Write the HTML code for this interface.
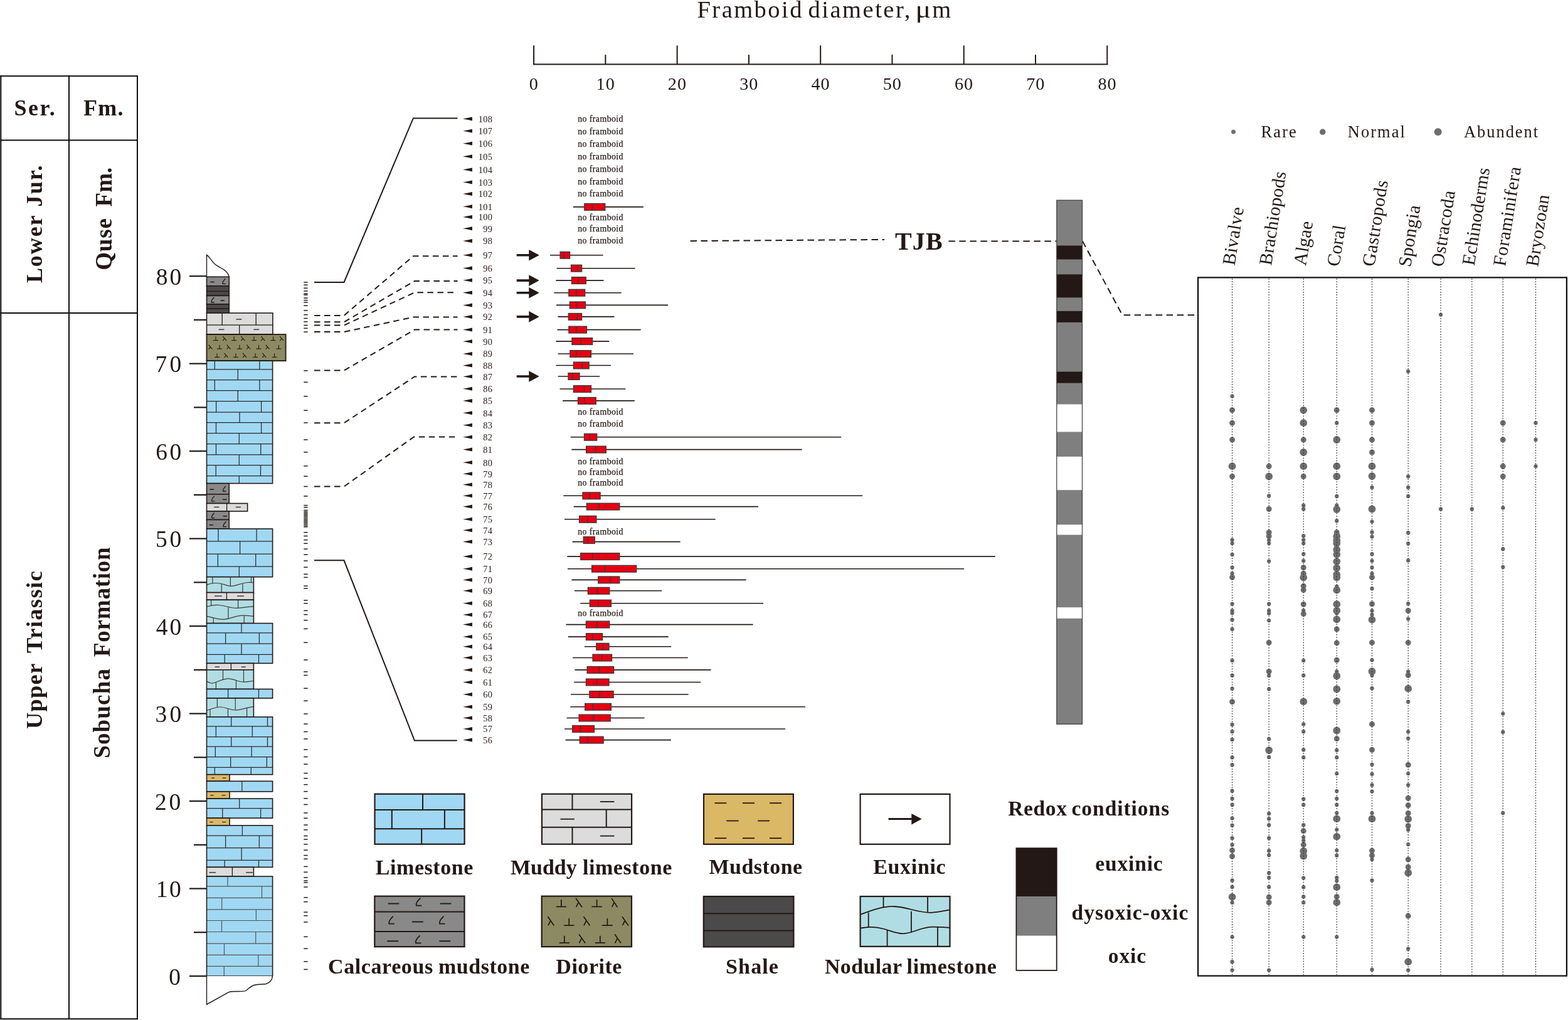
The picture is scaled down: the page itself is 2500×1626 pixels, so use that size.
<!DOCTYPE html>
<html><head><meta charset="utf-8"><title>Framboid diameter figure</title>
<style>html,body{margin:0;padding:0;background:#fff;}svg{display:block;}</style></head>
<body><svg width="2500" height="1626" viewBox="0 0 2500 1626">
<rect width="2500" height="1626" fill="#fff"/>
<line x1="1.3" y1="120.3" x2="1.3" y2="1625" stroke="#0d0d0d" stroke-width="2"/>
<line x1="110" y1="120.3" x2="110" y2="1625" stroke="#0d0d0d" stroke-width="2"/>
<line x1="219" y1="120.3" x2="219" y2="1625" stroke="#0d0d0d" stroke-width="2"/>
<line x1="0.3" y1="121.2" x2="220" y2="121.2" stroke="#0d0d0d" stroke-width="2"/>
<line x1="0.3" y1="223.6" x2="220" y2="223.6" stroke="#0d0d0d" stroke-width="2"/>
<line x1="0.3" y1="498.9" x2="220" y2="498.9" stroke="#0d0d0d" stroke-width="2"/>
<line x1="0.3" y1="1624.3" x2="220" y2="1624.3" stroke="#0d0d0d" stroke-width="2"/>
<text x="22.6" y="184" font-family="Liberation Serif, serif" font-size="36" font-weight="bold" font-style="normal" fill="#231815" letter-spacing="2.5">Ser.</text>
<text x="132.95" y="184" font-family="Liberation Serif, serif" font-size="36" font-weight="bold" font-style="normal" fill="#231815" letter-spacing="1.23">Fm.</text>
<text transform="translate(66.9 451.05) rotate(-90)" font-family="Liberation Serif, serif" font-size="36" font-weight="bold" font-style="normal" fill="#231815" letter-spacing="1.9">Lower</text>
<text transform="translate(66.9 329.4) rotate(-90)" font-family="Liberation Serif, serif" font-size="36" font-weight="bold" font-style="normal" fill="#231815" letter-spacing="2.05">Jur.</text>
<text transform="translate(177.7 430.85) rotate(-90)" font-family="Liberation Serif, serif" font-size="37" font-weight="bold" font-style="normal" fill="#231815" letter-spacing="0.85">Quse</text>
<text transform="translate(177.7 329.5) rotate(-90)" font-family="Liberation Serif, serif" font-size="37" font-weight="bold" font-style="normal" fill="#231815" letter-spacing="0.1">Fm.</text>
<text transform="translate(66.5 1162) rotate(-90)" font-family="Liberation Serif, serif" font-size="36.5" font-weight="bold" font-style="normal" fill="#231815" letter-spacing="1.18">Upper</text>
<text transform="translate(66.5 1041) rotate(-90)" font-family="Liberation Serif, serif" font-size="36.5" font-weight="bold" font-style="normal" fill="#231815" letter-spacing="1.4">Triassic</text>
<text transform="translate(174.7 1208.85) rotate(-90)" font-family="Liberation Serif, serif" font-size="37" font-weight="bold" font-style="normal" fill="#231815" letter-spacing="1.18">Sobucha</text>
<text transform="translate(174.7 1047) rotate(-90)" font-family="Liberation Serif, serif" font-size="37" font-weight="bold" font-style="normal" fill="#231815" letter-spacing="0.76">Formation</text>
<line x1="302" y1="1556" x2="330" y2="1556" stroke="#231815" stroke-width="2.2"/>
<text x="269.15" y="1569.6" font-family="Liberation Serif, serif" font-size="37.5" font-weight="normal" font-style="normal" fill="#231815" letter-spacing="9.25">0</text>
<line x1="309" y1="1486.26" x2="330" y2="1486.26" stroke="#231815" stroke-width="2.2"/>
<line x1="302" y1="1416.53" x2="330" y2="1416.53" stroke="#231815" stroke-width="2.2"/>
<text x="248.8" y="1430.12" font-family="Liberation Serif, serif" font-size="37.5" font-weight="normal" font-style="normal" fill="#231815" letter-spacing="2.5">10</text>
<line x1="309" y1="1346.79" x2="330" y2="1346.79" stroke="#231815" stroke-width="2.2"/>
<line x1="302" y1="1277.05" x2="330" y2="1277.05" stroke="#231815" stroke-width="2.2"/>
<text x="247" y="1290.65" font-family="Liberation Serif, serif" font-size="37.5" font-weight="normal" font-style="normal" fill="#231815" letter-spacing="3.85">20</text>
<line x1="309" y1="1207.31" x2="330" y2="1207.31" stroke="#231815" stroke-width="2.2"/>
<line x1="302" y1="1137.58" x2="330" y2="1137.58" stroke="#231815" stroke-width="2.2"/>
<text x="247.45" y="1151.17" font-family="Liberation Serif, serif" font-size="37.5" font-weight="normal" font-style="normal" fill="#231815" letter-spacing="4.3">30</text>
<line x1="309" y1="1067.84" x2="330" y2="1067.84" stroke="#231815" stroke-width="2.2"/>
<line x1="302" y1="998.1" x2="330" y2="998.1" stroke="#231815" stroke-width="2.2"/>
<text x="248.8" y="1011.7" font-family="Liberation Serif, serif" font-size="37.5" font-weight="normal" font-style="normal" fill="#231815" letter-spacing="2.95">40</text>
<line x1="309" y1="928.36" x2="330" y2="928.36" stroke="#231815" stroke-width="2.2"/>
<line x1="302" y1="858.62" x2="330" y2="858.62" stroke="#231815" stroke-width="2.2"/>
<text x="247.9" y="872.23" font-family="Liberation Serif, serif" font-size="37.5" font-weight="normal" font-style="normal" fill="#231815" letter-spacing="3.85">50</text>
<line x1="309" y1="788.89" x2="330" y2="788.89" stroke="#231815" stroke-width="2.2"/>
<line x1="302" y1="719.15" x2="330" y2="719.15" stroke="#231815" stroke-width="2.2"/>
<text x="248.35" y="732.75" font-family="Liberation Serif, serif" font-size="37.5" font-weight="normal" font-style="normal" fill="#231815" letter-spacing="3.4">60</text>
<line x1="309" y1="649.41" x2="330" y2="649.41" stroke="#231815" stroke-width="2.2"/>
<line x1="302" y1="579.68" x2="330" y2="579.68" stroke="#231815" stroke-width="2.2"/>
<text x="247.45" y="593.28" font-family="Liberation Serif, serif" font-size="37.5" font-weight="normal" font-style="normal" fill="#231815" letter-spacing="4.3">70</text>
<line x1="309" y1="509.94" x2="330" y2="509.94" stroke="#231815" stroke-width="2.2"/>
<line x1="302" y1="440.2" x2="330" y2="440.2" stroke="#231815" stroke-width="2.2"/>
<text x="248.8" y="453.8" font-family="Liberation Serif, serif" font-size="37.5" font-weight="normal" font-style="normal" fill="#231815" letter-spacing="2.95">80</text>
<path d="M329.5 441.3 L329.5 406.3 C334 409 337 416 343 421.5 C350 427 362 429 365.3 441.3" fill="#fff" stroke="#231815" stroke-width="1.4"/>
<rect x="329.5" y="441.3" width="35.8" height="14.5" fill="#898989" stroke="none" stroke-width="0"/>
<line x1="335.2" y1="449.55" x2="341.7" y2="449.55" stroke="#231815" stroke-width="1.5"/>
<path d="M359.38 444.28 Q354.15 449.5 355.1 452.35 L359.85 452.35" fill="none" stroke="#231815" stroke-width="1.3"/>
<rect x="329.5" y="441.3" width="35.8" height="14.5" fill="none" stroke="#231815" stroke-width="1.6"/>
<rect x="329.5" y="455.8" width="35.8" height="15.6" fill="#4b4949" stroke="none" stroke-width="0"/>
<line x1="329.5" y1="464.4" x2="365.3" y2="464.4" stroke="#231815" stroke-width="1.3"/>
<rect x="329.5" y="455.8" width="35.8" height="15.6" fill="none" stroke="#231815" stroke-width="1.6"/>
<rect x="329.5" y="471.4" width="35.8" height="13.6" fill="#898989" stroke="none" stroke-width="0"/>
<path d="M341.38 473.93 Q336.15 479.15 337.1 482 L341.85 482" fill="none" stroke="#231815" stroke-width="1.3"/>
<line x1="351.5" y1="479.2" x2="358" y2="479.2" stroke="#231815" stroke-width="1.5"/>
<rect x="329.5" y="471.4" width="35.8" height="13.6" fill="none" stroke="#231815" stroke-width="1.6"/>
<rect x="329.5" y="485" width="35.8" height="14" fill="#4b4949" stroke="none" stroke-width="0"/>
<line x1="329.5" y1="492" x2="365.3" y2="492" stroke="#231815" stroke-width="1.3"/>
<rect x="329.5" y="485" width="35.8" height="14" fill="none" stroke="#231815" stroke-width="1.6"/>
<rect x="329.5" y="499" width="105.4" height="33.9" fill="#dcdcdc" stroke="none" stroke-width="0"/>
<line x1="329.5" y1="518.2" x2="434.9" y2="518.2" stroke="#231815" stroke-width="1.3"/>
<line x1="354.2" y1="499" x2="354.2" y2="518.2" stroke="#231815" stroke-width="1.3"/>
<line x1="408.2" y1="499" x2="408.2" y2="518.2" stroke="#231815" stroke-width="1.3"/>
<line x1="381.7" y1="518.2" x2="381.7" y2="532.9" stroke="#231815" stroke-width="1.3"/>
<line x1="376.5" y1="509" x2="385.4" y2="509" stroke="#3e3a39" stroke-width="1.5"/>
<line x1="348.7" y1="525.3" x2="357.5" y2="525.3" stroke="#3e3a39" stroke-width="1.5"/>
<line x1="404.4" y1="525.3" x2="413.2" y2="525.3" stroke="#3e3a39" stroke-width="1.5"/>
<rect x="329.5" y="499" width="105.4" height="33.9" fill="none" stroke="#231815" stroke-width="1.6"/>
<rect x="329.5" y="533.1" width="126.1" height="42.1" fill="#8c8a62" stroke="none" stroke-width="0"/>
<line x1="340" y1="542.6" x2="348" y2="542.6" stroke="#231815" stroke-width="1.1"/>
<line x1="344" y1="536.6" x2="344" y2="542.6" stroke="#231815" stroke-width="1.1"/>
<path d="M355.2 536.1 L361.2 543.1 M358.4 539.3 L355.2 543.1" stroke="#231815" stroke-width="1.1" fill="none"/>
<line x1="369.1" y1="542.6" x2="377.1" y2="542.6" stroke="#231815" stroke-width="1.1"/>
<line x1="373.1" y1="536.6" x2="373.1" y2="542.6" stroke="#231815" stroke-width="1.1"/>
<path d="M384.4 536.1 L390.4 543.1 M387.6 539.3 L384.4 543.1" stroke="#231815" stroke-width="1.1" fill="none"/>
<line x1="401" y1="542.6" x2="409" y2="542.6" stroke="#231815" stroke-width="1.1"/>
<line x1="405" y1="536.6" x2="405" y2="542.6" stroke="#231815" stroke-width="1.1"/>
<path d="M416.3 536.1 L422.3 543.1 M419.5 539.3 L416.3 543.1" stroke="#231815" stroke-width="1.1" fill="none"/>
<line x1="431.6" y1="542.6" x2="439.6" y2="542.6" stroke="#231815" stroke-width="1.1"/>
<line x1="435.6" y1="536.6" x2="435.6" y2="542.6" stroke="#231815" stroke-width="1.1"/>
<path d="M446.1 536.1 L452.1 543.1 M449.3 539.3 L446.1 543.1" stroke="#231815" stroke-width="1.1" fill="none"/>
<path d="M332.6 549.6 L338.6 556.6 M335.8 552.8 L332.6 556.6" stroke="#231815" stroke-width="1.1" fill="none"/>
<line x1="346.1" y1="556.1" x2="354.1" y2="556.1" stroke="#231815" stroke-width="1.1"/>
<line x1="350.1" y1="550.1" x2="350.1" y2="556.1" stroke="#231815" stroke-width="1.1"/>
<path d="M361.6 549.6 L367.6 556.6 M364.8 552.8 L361.6 556.6" stroke="#231815" stroke-width="1.1" fill="none"/>
<line x1="378" y1="556.1" x2="386" y2="556.1" stroke="#231815" stroke-width="1.1"/>
<line x1="382" y1="550.1" x2="382" y2="556.1" stroke="#231815" stroke-width="1.1"/>
<path d="M393.2 549.6 L399.2 556.6 M396.4 552.8 L393.2 556.6" stroke="#231815" stroke-width="1.1" fill="none"/>
<line x1="408.5" y1="556.1" x2="416.5" y2="556.1" stroke="#231815" stroke-width="1.1"/>
<line x1="412.5" y1="550.1" x2="412.5" y2="556.1" stroke="#231815" stroke-width="1.1"/>
<path d="M423.7 549.6 L429.7 556.6 M426.9 552.8 L423.7 556.6" stroke="#231815" stroke-width="1.1" fill="none"/>
<line x1="440.4" y1="556.1" x2="448.4" y2="556.1" stroke="#231815" stroke-width="1.1"/>
<line x1="444.4" y1="550.1" x2="444.4" y2="556.1" stroke="#231815" stroke-width="1.1"/>
<line x1="342" y1="569.4" x2="350" y2="569.4" stroke="#231815" stroke-width="1.1"/>
<line x1="346" y1="563.4" x2="346" y2="569.4" stroke="#231815" stroke-width="1.1"/>
<path d="M357.5 562.9 L363.5 569.9 M360.7 566.1 L357.5 569.9" stroke="#231815" stroke-width="1.1" fill="none"/>
<line x1="371.9" y1="569.4" x2="379.9" y2="569.4" stroke="#231815" stroke-width="1.1"/>
<line x1="375.9" y1="563.4" x2="375.9" y2="569.4" stroke="#231815" stroke-width="1.1"/>
<path d="M387.1 562.9 L393.1 569.9 M390.3 566.1 L387.1 569.9" stroke="#231815" stroke-width="1.1" fill="none"/>
<line x1="403.1" y1="569.4" x2="411.1" y2="569.4" stroke="#231815" stroke-width="1.1"/>
<line x1="407.1" y1="563.4" x2="407.1" y2="569.4" stroke="#231815" stroke-width="1.1"/>
<path d="M418.3 562.9 L424.3 569.9 M421.5 566.1 L418.3 569.9" stroke="#231815" stroke-width="1.1" fill="none"/>
<line x1="433.6" y1="569.4" x2="441.6" y2="569.4" stroke="#231815" stroke-width="1.1"/>
<line x1="437.6" y1="563.4" x2="437.6" y2="569.4" stroke="#231815" stroke-width="1.1"/>
<rect x="329.5" y="533.1" width="126.1" height="42.1" fill="none" stroke="#231815" stroke-width="1.8"/>
<rect x="329.5" y="575.2" width="105.1" height="195.4" fill="#a0d8f4" stroke="none" stroke-width="0"/>
<line x1="329.5" y1="588.8" x2="434.6" y2="588.8" stroke="#2e2a29" stroke-width="1.25"/>
<line x1="329.5" y1="605.5" x2="434.6" y2="605.5" stroke="#2e2a29" stroke-width="1.25"/>
<line x1="329.5" y1="622.5" x2="434.6" y2="622.5" stroke="#2e2a29" stroke-width="1.25"/>
<line x1="329.5" y1="639.7" x2="434.6" y2="639.7" stroke="#2e2a29" stroke-width="1.25"/>
<line x1="329.5" y1="657.1" x2="434.6" y2="657.1" stroke="#2e2a29" stroke-width="1.25"/>
<line x1="329.5" y1="673.6" x2="434.6" y2="673.6" stroke="#2e2a29" stroke-width="1.25"/>
<line x1="329.5" y1="690.6" x2="434.6" y2="690.6" stroke="#2e2a29" stroke-width="1.25"/>
<line x1="329.5" y1="707.5" x2="434.6" y2="707.5" stroke="#2e2a29" stroke-width="1.25"/>
<line x1="329.5" y1="724.9" x2="434.6" y2="724.9" stroke="#2e2a29" stroke-width="1.25"/>
<line x1="329.5" y1="741.7" x2="434.6" y2="741.7" stroke="#2e2a29" stroke-width="1.25"/>
<line x1="329.5" y1="758.6" x2="434.6" y2="758.6" stroke="#2e2a29" stroke-width="1.25"/>
<line x1="342.3" y1="575.2" x2="342.3" y2="588.8" stroke="#2e2a29" stroke-width="1.25"/>
<line x1="413.9" y1="575.2" x2="413.9" y2="588.8" stroke="#2e2a29" stroke-width="1.25"/>
<line x1="379.3" y1="588.8" x2="379.3" y2="605.5" stroke="#2e2a29" stroke-width="1.25"/>
<line x1="342.3" y1="605.5" x2="342.3" y2="622.5" stroke="#2e2a29" stroke-width="1.25"/>
<line x1="413.9" y1="605.5" x2="413.9" y2="622.5" stroke="#2e2a29" stroke-width="1.25"/>
<line x1="379.3" y1="622.5" x2="379.3" y2="639.7" stroke="#2e2a29" stroke-width="1.25"/>
<line x1="344.7" y1="639.7" x2="344.7" y2="657.1" stroke="#2e2a29" stroke-width="1.25"/>
<line x1="416.6" y1="639.7" x2="416.6" y2="657.1" stroke="#2e2a29" stroke-width="1.25"/>
<line x1="382" y1="657.1" x2="382" y2="673.6" stroke="#2e2a29" stroke-width="1.25"/>
<line x1="344.5" y1="673.6" x2="344.5" y2="690.6" stroke="#2e2a29" stroke-width="1.25"/>
<line x1="416.6" y1="673.6" x2="416.6" y2="690.6" stroke="#2e2a29" stroke-width="1.25"/>
<line x1="381.3" y1="690.6" x2="381.3" y2="707.5" stroke="#2e2a29" stroke-width="1.25"/>
<line x1="344.5" y1="707.5" x2="344.5" y2="724.9" stroke="#2e2a29" stroke-width="1.25"/>
<line x1="415.8" y1="707.5" x2="415.8" y2="724.9" stroke="#2e2a29" stroke-width="1.25"/>
<line x1="381.3" y1="724.9" x2="381.3" y2="741.7" stroke="#2e2a29" stroke-width="1.25"/>
<line x1="344.2" y1="741.7" x2="344.2" y2="758.6" stroke="#2e2a29" stroke-width="1.25"/>
<line x1="415.5" y1="741.7" x2="415.5" y2="758.6" stroke="#2e2a29" stroke-width="1.25"/>
<line x1="381.3" y1="758.6" x2="381.3" y2="770.6" stroke="#2e2a29" stroke-width="1.25"/>
<rect x="329.5" y="575.2" width="105.1" height="195.4" fill="none" stroke="#231815" stroke-width="1.6"/>
<rect x="329.5" y="770.6" width="35.8" height="17.2" fill="#898989" stroke="none" stroke-width="0"/>
<line x1="334.5" y1="780.2" x2="341" y2="780.2" stroke="#231815" stroke-width="1.5"/>
<path d="M359.88 774.93 Q354.65 780.15 355.6 783 L360.35 783" fill="none" stroke="#231815" stroke-width="1.3"/>
<rect x="329.5" y="770.6" width="35.8" height="17.2" fill="none" stroke="#231815" stroke-width="1.6"/>
<rect x="329.5" y="787.8" width="35.8" height="14.7" fill="#898989" stroke="none" stroke-width="0"/>
<path d="M341.88 790.88 Q336.65 796.1 337.6 798.95 L342.35 798.95" fill="none" stroke="#231815" stroke-width="1.3"/>
<line x1="355" y1="796.15" x2="361.5" y2="796.15" stroke="#231815" stroke-width="1.5"/>
<rect x="329.5" y="787.8" width="35.8" height="14.7" fill="none" stroke="#231815" stroke-width="1.6"/>
<rect x="329.5" y="802.5" width="65.1" height="12.5" fill="#dcdcdc" stroke="none" stroke-width="0"/>
<line x1="361.6" y1="802.5" x2="361.6" y2="815" stroke="#231815" stroke-width="1.3"/>
<line x1="341.3" y1="808.4" x2="349.4" y2="808.4" stroke="#3e3a39" stroke-width="1.5"/>
<line x1="375.9" y1="808.4" x2="384" y2="808.4" stroke="#3e3a39" stroke-width="1.5"/>
<rect x="329.5" y="802.5" width="65.1" height="12.5" fill="none" stroke="#231815" stroke-width="1.6"/>
<rect x="329.5" y="815" width="35.8" height="13.5" fill="#898989" stroke="none" stroke-width="0"/>
<path d="M341.88 817.48 Q336.65 822.7 337.6 825.55 L342.35 825.55" fill="none" stroke="#231815" stroke-width="1.3"/>
<line x1="355.5" y1="822.75" x2="362" y2="822.75" stroke="#231815" stroke-width="1.5"/>
<rect x="329.5" y="815" width="35.8" height="13.5" fill="none" stroke="#231815" stroke-width="1.6"/>
<rect x="329.5" y="828.5" width="35.8" height="14.5" fill="#898989" stroke="none" stroke-width="0"/>
<line x1="333.5" y1="836.75" x2="340" y2="836.75" stroke="#231815" stroke-width="1.5"/>
<path d="M360.38 831.48 Q355.15 836.7 356.1 839.55 L360.85 839.55" fill="none" stroke="#231815" stroke-width="1.3"/>
<rect x="329.5" y="828.5" width="35.8" height="14.5" fill="none" stroke="#231815" stroke-width="1.6"/>
<rect x="329.5" y="843" width="105.1" height="76.7" fill="#a0d8f4" stroke="none" stroke-width="0"/>
<line x1="329.5" y1="862.9" x2="434.6" y2="862.9" stroke="#2e2a29" stroke-width="1.25"/>
<line x1="329.5" y1="883" x2="434.6" y2="883" stroke="#2e2a29" stroke-width="1.25"/>
<line x1="329.5" y1="903.1" x2="434.6" y2="903.1" stroke="#2e2a29" stroke-width="1.25"/>
<line x1="348" y1="843" x2="348" y2="862.9" stroke="#2e2a29" stroke-width="1.25"/>
<line x1="409.1" y1="843" x2="409.1" y2="862.9" stroke="#2e2a29" stroke-width="1.25"/>
<line x1="382.6" y1="862.9" x2="382.6" y2="883" stroke="#2e2a29" stroke-width="1.25"/>
<line x1="347.4" y1="883" x2="347.4" y2="903.1" stroke="#2e2a29" stroke-width="1.25"/>
<line x1="407.7" y1="883" x2="407.7" y2="903.1" stroke="#2e2a29" stroke-width="1.25"/>
<line x1="381.3" y1="903.1" x2="381.3" y2="919.7" stroke="#2e2a29" stroke-width="1.25"/>
<rect x="329.5" y="843" width="105.1" height="76.7" fill="none" stroke="#231815" stroke-width="1.6"/>
<rect x="329.5" y="919.7" width="74.9" height="24.9" fill="#b0dde3" stroke="none" stroke-width="0"/>
<path d="M329.5 932.4 C337 929 343 929 350 930 C358 931 363 935 369.4 934.4 C377 934 385 929 395.6 928.5 C400 928.3 402 928.7 404.4 928.9" fill="none" stroke="#3e3a39" stroke-width="1.2"/>
<line x1="338.9" y1="919.7" x2="338.9" y2="930.2" stroke="#3e3a39" stroke-width="1.2"/>
<line x1="367.4" y1="919.7" x2="367.4" y2="934.2" stroke="#3e3a39" stroke-width="1.2"/>
<line x1="400.5" y1="919.7" x2="400.5" y2="928.6" stroke="#3e3a39" stroke-width="1.2"/>
<line x1="353.3" y1="930.8" x2="353.3" y2="944.6" stroke="#3e3a39" stroke-width="1.2"/>
<line x1="386.9" y1="930.6" x2="386.9" y2="944.6" stroke="#3e3a39" stroke-width="1.2"/>
<rect x="329.5" y="919.7" width="74.9" height="24.9" fill="none" stroke="#231815" stroke-width="1.6"/>
<rect x="329.5" y="944.6" width="74.9" height="11.7" fill="#dcdcdc" stroke="none" stroke-width="0"/>
<line x1="361.4" y1="944.6" x2="361.4" y2="956.3" stroke="#231815" stroke-width="1.3"/>
<line x1="342" y1="950.2" x2="353.7" y2="950.2" stroke="#3e3a39" stroke-width="1.5"/>
<line x1="378.1" y1="950.2" x2="388.9" y2="950.2" stroke="#3e3a39" stroke-width="1.5"/>
<rect x="329.5" y="944.6" width="74.9" height="11.7" fill="none" stroke="#231815" stroke-width="1.6"/>
<rect x="329.5" y="956.3" width="74.9" height="37.3" fill="#b0dde3" stroke="none" stroke-width="0"/>
<path d="M329.5 967.3 C336 965 342 964.2 348 964.5 C358 965 366 969.5 378.1 969.3 C388 969 396 967 404.4 966.7" fill="none" stroke="#3e3a39" stroke-width="1.2"/>
<path d="M329.5 982.4 C338 984 347 987.5 356 987.3 C366 987 376 981.3 386.9 981.2 C394 981.2 400 982 404.4 982.4" fill="none" stroke="#3e3a39" stroke-width="1.2"/>
<line x1="336.6" y1="956.3" x2="336.6" y2="965.6" stroke="#3e3a39" stroke-width="1.2"/>
<line x1="379.6" y1="956.3" x2="379.6" y2="969.3" stroke="#3e3a39" stroke-width="1.2"/>
<line x1="363.9" y1="968.6" x2="363.9" y2="985.6" stroke="#3e3a39" stroke-width="1.2"/>
<line x1="340.3" y1="984.6" x2="340.3" y2="993.6" stroke="#3e3a39" stroke-width="1.2"/>
<line x1="389.2" y1="981.3" x2="389.2" y2="993.6" stroke="#3e3a39" stroke-width="1.2"/>
<rect x="329.5" y="956.3" width="74.9" height="37.3" fill="none" stroke="#231815" stroke-width="1.6"/>
<rect x="329.5" y="993.6" width="105.1" height="63.8" fill="#a0d8f4" stroke="none" stroke-width="0"/>
<line x1="329.5" y1="1008.8" x2="434.6" y2="1008.8" stroke="#2e2a29" stroke-width="1.25"/>
<line x1="329.5" y1="1026.2" x2="434.6" y2="1026.2" stroke="#2e2a29" stroke-width="1.25"/>
<line x1="329.5" y1="1043.4" x2="434.6" y2="1043.4" stroke="#2e2a29" stroke-width="1.25"/>
<line x1="385" y1="993.6" x2="385" y2="1008.8" stroke="#2e2a29" stroke-width="1.25"/>
<line x1="359.6" y1="1008.8" x2="359.6" y2="1026.2" stroke="#2e2a29" stroke-width="1.25"/>
<line x1="413.4" y1="1008.8" x2="413.4" y2="1026.2" stroke="#2e2a29" stroke-width="1.25"/>
<line x1="385" y1="1026.2" x2="385" y2="1043.4" stroke="#2e2a29" stroke-width="1.25"/>
<line x1="358.2" y1="1043.4" x2="358.2" y2="1057.4" stroke="#2e2a29" stroke-width="1.25"/>
<line x1="412.5" y1="1043.4" x2="412.5" y2="1057.4" stroke="#2e2a29" stroke-width="1.25"/>
<rect x="329.5" y="993.6" width="105.1" height="63.8" fill="none" stroke="#231815" stroke-width="1.6"/>
<rect x="329.5" y="1057.4" width="74.9" height="10.4" fill="#dcdcdc" stroke="none" stroke-width="0"/>
<line x1="368.4" y1="1057.4" x2="368.4" y2="1067.8" stroke="#231815" stroke-width="1.3"/>
<line x1="342.6" y1="1063.2" x2="350.1" y2="1063.2" stroke="#3e3a39" stroke-width="1.5"/>
<line x1="384.7" y1="1063.2" x2="391.7" y2="1063.2" stroke="#3e3a39" stroke-width="1.5"/>
<rect x="329.5" y="1057.4" width="74.9" height="10.4" fill="none" stroke="#231815" stroke-width="1.6"/>
<rect x="329.5" y="1067.8" width="74.9" height="30.7" fill="#b0dde3" stroke="none" stroke-width="0"/>
<path d="M329.5 1085.9 C333 1088 336 1089.5 339.5 1089 C348 1087 355 1081.5 364.3 1081.8 C373 1082 380 1087.2 388.7 1087.2 C395 1087.2 400 1085.8 404.4 1085.5" fill="none" stroke="#3e3a39" stroke-width="1.2"/>
<line x1="355.5" y1="1067.8" x2="355.5" y2="1083.3" stroke="#3e3a39" stroke-width="1.2"/>
<line x1="388.5" y1="1067.8" x2="388.5" y2="1087.2" stroke="#3e3a39" stroke-width="1.2"/>
<line x1="344.4" y1="1087.6" x2="344.4" y2="1098.5" stroke="#3e3a39" stroke-width="1.2"/>
<line x1="376.5" y1="1084.5" x2="376.5" y2="1098.5" stroke="#3e3a39" stroke-width="1.2"/>
<rect x="329.5" y="1067.8" width="74.9" height="30.7" fill="none" stroke="#231815" stroke-width="1.6"/>
<rect x="329.5" y="1098.5" width="105.1" height="14.5" fill="#a0d8f4" stroke="none" stroke-width="0"/>
<line x1="363.6" y1="1098.5" x2="363.6" y2="1113" stroke="#2e2a29" stroke-width="1.25"/>
<line x1="412.5" y1="1098.5" x2="412.5" y2="1113" stroke="#2e2a29" stroke-width="1.25"/>
<rect x="329.5" y="1098.5" width="105.1" height="14.5" fill="none" stroke="#231815" stroke-width="1.6"/>
<rect x="329.5" y="1113" width="74.9" height="29.9" fill="#b0dde3" stroke="none" stroke-width="0"/>
<path d="M329.5 1132.7 C338 1130 344 1127 350.8 1127 C360 1127 366 1132 375 1132 C386 1132 395 1126.8 404.4 1126.6" fill="none" stroke="#3e3a39" stroke-width="1.2"/>
<line x1="346.4" y1="1113" x2="346.4" y2="1127.3" stroke="#3e3a39" stroke-width="1.2"/>
<line x1="375.2" y1="1113" x2="375.2" y2="1132" stroke="#3e3a39" stroke-width="1.2"/>
<line x1="335" y1="1130.8" x2="335" y2="1142.9" stroke="#3e3a39" stroke-width="1.2"/>
<line x1="363.5" y1="1129.8" x2="363.5" y2="1142.9" stroke="#3e3a39" stroke-width="1.2"/>
<line x1="393.6" y1="1128.3" x2="393.6" y2="1142.9" stroke="#3e3a39" stroke-width="1.2"/>
<rect x="329.5" y="1113" width="74.9" height="29.9" fill="none" stroke="#231815" stroke-width="1.6"/>
<rect x="329.5" y="1142.9" width="105.1" height="91.8" fill="#a0d8f4" stroke="none" stroke-width="0"/>
<line x1="329.5" y1="1157.8" x2="434.6" y2="1157.8" stroke="#2e2a29" stroke-width="1.25"/>
<line x1="329.5" y1="1174.5" x2="434.6" y2="1174.5" stroke="#2e2a29" stroke-width="1.25"/>
<line x1="329.5" y1="1190.1" x2="434.6" y2="1190.1" stroke="#2e2a29" stroke-width="1.25"/>
<line x1="329.5" y1="1206.7" x2="434.6" y2="1206.7" stroke="#2e2a29" stroke-width="1.25"/>
<line x1="329.5" y1="1223.4" x2="434.6" y2="1223.4" stroke="#2e2a29" stroke-width="1.25"/>
<line x1="368.7" y1="1142.9" x2="368.7" y2="1157.8" stroke="#2e2a29" stroke-width="1.25"/>
<line x1="426.5" y1="1142.9" x2="426.5" y2="1157.8" stroke="#2e2a29" stroke-width="1.25"/>
<line x1="344.4" y1="1157.8" x2="344.4" y2="1174.5" stroke="#2e2a29" stroke-width="1.25"/>
<line x1="402.3" y1="1157.8" x2="402.3" y2="1174.5" stroke="#2e2a29" stroke-width="1.25"/>
<line x1="368.7" y1="1174.5" x2="368.7" y2="1190.1" stroke="#2e2a29" stroke-width="1.25"/>
<line x1="426.5" y1="1174.5" x2="426.5" y2="1190.1" stroke="#2e2a29" stroke-width="1.25"/>
<line x1="343.3" y1="1190.1" x2="343.3" y2="1206.7" stroke="#2e2a29" stroke-width="1.25"/>
<line x1="401.2" y1="1190.1" x2="401.2" y2="1206.7" stroke="#2e2a29" stroke-width="1.25"/>
<line x1="367.7" y1="1206.7" x2="367.7" y2="1223.4" stroke="#2e2a29" stroke-width="1.25"/>
<line x1="425.4" y1="1206.7" x2="425.4" y2="1223.4" stroke="#2e2a29" stroke-width="1.25"/>
<line x1="342.3" y1="1223.4" x2="342.3" y2="1234.7" stroke="#2e2a29" stroke-width="1.25"/>
<line x1="400.3" y1="1223.4" x2="400.3" y2="1234.7" stroke="#2e2a29" stroke-width="1.25"/>
<rect x="329.5" y="1142.9" width="105.1" height="91.8" fill="none" stroke="#231815" stroke-width="1.6"/>
<rect x="329.5" y="1234.7" width="36.6" height="10.6" fill="#dbb866" stroke="none" stroke-width="0"/>
<line x1="337.2" y1="1240.2" x2="342" y2="1240.2" stroke="#3e3a39" stroke-width="1.4"/>
<line x1="354.8" y1="1240.2" x2="360.3" y2="1240.2" stroke="#3e3a39" stroke-width="1.4"/>
<rect x="329.5" y="1234.7" width="36.6" height="10.6" fill="none" stroke="#231815" stroke-width="1.6"/>
<rect x="329.5" y="1245.3" width="105.1" height="16.6" fill="#a0d8f4" stroke="none" stroke-width="0"/>
<line x1="385.8" y1="1245.3" x2="385.8" y2="1261.9" stroke="#2e2a29" stroke-width="1.25"/>
<rect x="329.5" y="1245.3" width="105.1" height="16.6" fill="none" stroke="#231815" stroke-width="1.6"/>
<rect x="329.5" y="1261.9" width="36.6" height="11.2" fill="#dbb866" stroke="none" stroke-width="0"/>
<line x1="335.2" y1="1267.7" x2="340.6" y2="1267.7" stroke="#3e3a39" stroke-width="1.4"/>
<line x1="353.5" y1="1267.7" x2="359.6" y2="1267.7" stroke="#3e3a39" stroke-width="1.4"/>
<rect x="329.5" y="1261.9" width="36.6" height="11.2" fill="none" stroke="#231815" stroke-width="1.6"/>
<rect x="329.5" y="1273.1" width="105.1" height="31" fill="#a0d8f4" stroke="none" stroke-width="0"/>
<line x1="329.5" y1="1288.5" x2="434.6" y2="1288.5" stroke="#2e2a29" stroke-width="1.25"/>
<line x1="381.7" y1="1273.1" x2="381.7" y2="1288.5" stroke="#2e2a29" stroke-width="1.25"/>
<line x1="354.8" y1="1288.5" x2="354.8" y2="1304.1" stroke="#2e2a29" stroke-width="1.25"/>
<line x1="415.6" y1="1288.5" x2="415.6" y2="1304.1" stroke="#2e2a29" stroke-width="1.25"/>
<rect x="329.5" y="1273.1" width="105.1" height="31" fill="none" stroke="#231815" stroke-width="1.6"/>
<rect x="329.5" y="1304.1" width="36.6" height="11.8" fill="#dbb866" stroke="none" stroke-width="0"/>
<line x1="334.5" y1="1310.5" x2="339.9" y2="1310.5" stroke="#3e3a39" stroke-width="1.4"/>
<line x1="354.2" y1="1310.5" x2="360.3" y2="1310.5" stroke="#3e3a39" stroke-width="1.4"/>
<rect x="329.5" y="1304.1" width="36.6" height="11.8" fill="none" stroke="#231815" stroke-width="1.6"/>
<rect x="329.5" y="1315.9" width="105.1" height="66.5" fill="#a0d8f4" stroke="none" stroke-width="0"/>
<line x1="329.5" y1="1332.2" x2="434.6" y2="1332.2" stroke="#2e2a29" stroke-width="1.25"/>
<line x1="329.5" y1="1351.6" x2="434.6" y2="1351.6" stroke="#2e2a29" stroke-width="1.25"/>
<line x1="329.5" y1="1371.3" x2="434.6" y2="1371.3" stroke="#2e2a29" stroke-width="1.25"/>
<line x1="386.4" y1="1315.9" x2="386.4" y2="1332.2" stroke="#2e2a29" stroke-width="1.25"/>
<line x1="359.6" y1="1332.2" x2="359.6" y2="1351.6" stroke="#2e2a29" stroke-width="1.25"/>
<line x1="413.4" y1="1332.2" x2="413.4" y2="1351.6" stroke="#2e2a29" stroke-width="1.25"/>
<line x1="385.1" y1="1351.6" x2="385.1" y2="1371.3" stroke="#2e2a29" stroke-width="1.25"/>
<line x1="358.2" y1="1371.3" x2="358.2" y2="1382.4" stroke="#2e2a29" stroke-width="1.25"/>
<line x1="412.5" y1="1371.3" x2="412.5" y2="1382.4" stroke="#2e2a29" stroke-width="1.25"/>
<rect x="329.5" y="1315.9" width="105.1" height="66.5" fill="none" stroke="#231815" stroke-width="1.6"/>
<rect x="329.5" y="1382.4" width="74.9" height="14.7" fill="#dcdcdc" stroke="none" stroke-width="0"/>
<line x1="370.4" y1="1382.4" x2="370.4" y2="1397.1" stroke="#231815" stroke-width="1.3"/>
<line x1="333.4" y1="1390.8" x2="344" y2="1390.8" stroke="#3e3a39" stroke-width="1.5"/>
<line x1="392.1" y1="1390.8" x2="403" y2="1390.8" stroke="#3e3a39" stroke-width="1.5"/>
<rect x="329.5" y="1382.4" width="74.9" height="14.7" fill="none" stroke="#231815" stroke-width="1.6"/>
<rect x="329.5" y="1397.1" width="105.1" height="158.9" fill="#a0d8f4" stroke="none" stroke-width="0"/>
<line x1="329.5" y1="1412.9" x2="434.6" y2="1412.9" stroke="#575555" stroke-width="1.2"/>
<line x1="329.5" y1="1431.3" x2="434.6" y2="1431.3" stroke="#575555" stroke-width="1.2"/>
<line x1="329.5" y1="1449.9" x2="434.6" y2="1449.9" stroke="#575555" stroke-width="1.2"/>
<line x1="329.5" y1="1467.5" x2="434.6" y2="1467.5" stroke="#575555" stroke-width="1.2"/>
<line x1="329.5" y1="1485.5" x2="434.6" y2="1485.5" stroke="#575555" stroke-width="1.2"/>
<line x1="329.5" y1="1504.1" x2="434.6" y2="1504.1" stroke="#575555" stroke-width="1.2"/>
<line x1="329.5" y1="1522.4" x2="434.6" y2="1522.4" stroke="#575555" stroke-width="1.2"/>
<line x1="329.5" y1="1540.4" x2="434.6" y2="1540.4" stroke="#575555" stroke-width="1.2"/>
<line x1="363" y1="1397.1" x2="363" y2="1412.9" stroke="#575555" stroke-width="1.2"/>
<line x1="417.5" y1="1412.9" x2="417.5" y2="1431.3" stroke="#575555" stroke-width="1.2"/>
<line x1="353.7" y1="1431.3" x2="353.7" y2="1449.9" stroke="#575555" stroke-width="1.2"/>
<line x1="408.4" y1="1449.9" x2="408.4" y2="1467.5" stroke="#575555" stroke-width="1.2"/>
<line x1="353.5" y1="1467.5" x2="353.5" y2="1485.5" stroke="#575555" stroke-width="1.2"/>
<line x1="407.7" y1="1485.5" x2="407.7" y2="1504.1" stroke="#575555" stroke-width="1.2"/>
<line x1="357.5" y1="1504.1" x2="357.5" y2="1522.4" stroke="#575555" stroke-width="1.2"/>
<line x1="411.8" y1="1522.4" x2="411.8" y2="1540.4" stroke="#575555" stroke-width="1.2"/>
<line x1="357.3" y1="1540.4" x2="357.3" y2="1556" stroke="#575555" stroke-width="1.2"/>
<rect x="329.5" y="1397.1" width="105.1" height="158.9" fill="none" stroke="#231815" stroke-width="1.6"/>
<path d="M329.5 1556 L329.5 1601.2 L364.2 1581.9 C368 1580.3 372 1580.4 376 1580.5 C384 1580.7 390 1580.7 392.5 1579 C396 1576 400 1572 405 1570.5 C412 1568.3 420 1569.5 424 1568.5 C430 1566.5 434.3 1562 434.3 1556" fill="#fff" stroke="#231815" stroke-width="1.4"/>
<line x1="484.3" y1="450" x2="490.6" y2="450" stroke="#231815" stroke-width="1.5"/>
<line x1="484.3" y1="454.3" x2="490.6" y2="454.3" stroke="#231815" stroke-width="1.5"/>
<line x1="484.3" y1="459.3" x2="490.6" y2="459.3" stroke="#231815" stroke-width="1.5"/>
<line x1="484.3" y1="464" x2="490.6" y2="464" stroke="#231815" stroke-width="1.5"/>
<line x1="484.3" y1="468.1" x2="490.6" y2="468.1" stroke="#231815" stroke-width="1.5"/>
<line x1="484.3" y1="470.1" x2="490.6" y2="470.1" stroke="#231815" stroke-width="1.5"/>
<line x1="484.3" y1="475.2" x2="490.6" y2="475.2" stroke="#231815" stroke-width="1.5"/>
<line x1="484.3" y1="478.7" x2="490.6" y2="478.7" stroke="#231815" stroke-width="1.5"/>
<line x1="484.3" y1="482.1" x2="490.6" y2="482.1" stroke="#231815" stroke-width="1.5"/>
<line x1="484.3" y1="487.2" x2="490.6" y2="487.2" stroke="#231815" stroke-width="1.5"/>
<line x1="484.3" y1="495" x2="490.6" y2="495" stroke="#231815" stroke-width="1.5"/>
<line x1="484.3" y1="501.7" x2="490.6" y2="501.7" stroke="#231815" stroke-width="1.5"/>
<line x1="484.3" y1="507.5" x2="490.6" y2="507.5" stroke="#231815" stroke-width="1.5"/>
<line x1="484.3" y1="512.9" x2="490.6" y2="512.9" stroke="#231815" stroke-width="1.5"/>
<line x1="484.3" y1="518.5" x2="490.6" y2="518.5" stroke="#231815" stroke-width="1.5"/>
<line x1="484.3" y1="523.3" x2="490.6" y2="523.3" stroke="#231815" stroke-width="1.5"/>
<line x1="484.3" y1="529.1" x2="490.6" y2="529.1" stroke="#231815" stroke-width="1.5"/>
<line x1="484.3" y1="590.9" x2="490.6" y2="590.9" stroke="#231815" stroke-width="1.5"/>
<line x1="484.3" y1="609.3" x2="490.6" y2="609.3" stroke="#231815" stroke-width="1.5"/>
<line x1="484.3" y1="631.7" x2="490.6" y2="631.7" stroke="#231815" stroke-width="1.5"/>
<line x1="484.3" y1="654.3" x2="490.6" y2="654.3" stroke="#231815" stroke-width="1.5"/>
<line x1="484.3" y1="673.9" x2="490.6" y2="673.9" stroke="#231815" stroke-width="1.5"/>
<line x1="484.3" y1="701" x2="490.6" y2="701" stroke="#231815" stroke-width="1.5"/>
<line x1="484.3" y1="720.8" x2="490.6" y2="720.8" stroke="#231815" stroke-width="1.5"/>
<line x1="484.3" y1="742.8" x2="490.6" y2="742.8" stroke="#231815" stroke-width="1.5"/>
<line x1="484.3" y1="759.2" x2="490.6" y2="759.2" stroke="#231815" stroke-width="1.5"/>
<line x1="484.3" y1="775.5" x2="490.6" y2="775.5" stroke="#231815" stroke-width="1.5"/>
<line x1="484.3" y1="790.9" x2="490.6" y2="790.9" stroke="#231815" stroke-width="1.5"/>
<line x1="484.3" y1="805.6" x2="490.6" y2="805.6" stroke="#231815" stroke-width="1.5"/>
<line x1="484.3" y1="808.7" x2="490.6" y2="808.7" stroke="#231815" stroke-width="1.5"/>
<line x1="484.3" y1="848.7" x2="490.6" y2="848.7" stroke="#231815" stroke-width="1.5"/>
<line x1="484.3" y1="854.5" x2="490.6" y2="854.5" stroke="#231815" stroke-width="1.5"/>
<line x1="484.3" y1="860.7" x2="490.6" y2="860.7" stroke="#231815" stroke-width="1.5"/>
<line x1="484.3" y1="866.3" x2="490.6" y2="866.3" stroke="#231815" stroke-width="1.5"/>
<line x1="484.3" y1="875.2" x2="490.6" y2="875.2" stroke="#231815" stroke-width="1.5"/>
<line x1="484.3" y1="884.1" x2="490.6" y2="884.1" stroke="#231815" stroke-width="1.5"/>
<line x1="484.3" y1="894" x2="490.6" y2="894" stroke="#231815" stroke-width="1.5"/>
<line x1="484.3" y1="904.3" x2="490.6" y2="904.3" stroke="#231815" stroke-width="1.5"/>
<line x1="484.3" y1="915.3" x2="490.6" y2="915.3" stroke="#231815" stroke-width="1.5"/>
<line x1="484.3" y1="920.4" x2="490.6" y2="920.4" stroke="#231815" stroke-width="1.5"/>
<line x1="484.3" y1="934.1" x2="490.6" y2="934.1" stroke="#231815" stroke-width="1.5"/>
<line x1="484.3" y1="938" x2="490.6" y2="938" stroke="#231815" stroke-width="1.5"/>
<line x1="484.3" y1="957" x2="490.6" y2="957" stroke="#231815" stroke-width="1.5"/>
<line x1="484.3" y1="961.9" x2="490.6" y2="961.9" stroke="#231815" stroke-width="1.5"/>
<line x1="484.3" y1="973.4" x2="490.6" y2="973.4" stroke="#231815" stroke-width="1.5"/>
<line x1="484.3" y1="979.7" x2="490.6" y2="979.7" stroke="#231815" stroke-width="1.5"/>
<line x1="484.3" y1="988.7" x2="490.6" y2="988.7" stroke="#231815" stroke-width="1.5"/>
<line x1="484.3" y1="1002.4" x2="490.6" y2="1002.4" stroke="#231815" stroke-width="1.5"/>
<line x1="484.3" y1="1024.3" x2="490.6" y2="1024.3" stroke="#231815" stroke-width="1.5"/>
<line x1="484.3" y1="1052" x2="490.6" y2="1052" stroke="#231815" stroke-width="1.5"/>
<line x1="484.3" y1="1070.9" x2="490.6" y2="1070.9" stroke="#231815" stroke-width="1.5"/>
<line x1="484.3" y1="1076.5" x2="490.6" y2="1076.5" stroke="#231815" stroke-width="1.5"/>
<line x1="484.3" y1="1097.3" x2="490.6" y2="1097.3" stroke="#231815" stroke-width="1.5"/>
<line x1="484.3" y1="1117.2" x2="490.6" y2="1117.2" stroke="#231815" stroke-width="1.5"/>
<line x1="484.3" y1="1138" x2="490.6" y2="1138" stroke="#231815" stroke-width="1.5"/>
<line x1="484.3" y1="1154.1" x2="490.6" y2="1154.1" stroke="#231815" stroke-width="1.5"/>
<line x1="484.3" y1="1166.5" x2="490.6" y2="1166.5" stroke="#231815" stroke-width="1.5"/>
<line x1="484.3" y1="1177.9" x2="490.6" y2="1177.9" stroke="#231815" stroke-width="1.5"/>
<line x1="484.3" y1="1194.9" x2="490.6" y2="1194.9" stroke="#231815" stroke-width="1.5"/>
<line x1="484.3" y1="1206.5" x2="490.6" y2="1206.5" stroke="#231815" stroke-width="1.5"/>
<line x1="484.3" y1="1218.2" x2="490.6" y2="1218.2" stroke="#231815" stroke-width="1.5"/>
<line x1="484.3" y1="1232.6" x2="490.6" y2="1232.6" stroke="#231815" stroke-width="1.5"/>
<line x1="484.3" y1="1240.8" x2="490.6" y2="1240.8" stroke="#231815" stroke-width="1.5"/>
<line x1="484.3" y1="1250.7" x2="490.6" y2="1250.7" stroke="#231815" stroke-width="1.5"/>
<line x1="484.3" y1="1261.7" x2="490.6" y2="1261.7" stroke="#231815" stroke-width="1.5"/>
<line x1="484.3" y1="1272.8" x2="490.6" y2="1272.8" stroke="#231815" stroke-width="1.5"/>
<line x1="484.3" y1="1282.5" x2="490.6" y2="1282.5" stroke="#231815" stroke-width="1.5"/>
<line x1="484.3" y1="1295.9" x2="490.6" y2="1295.9" stroke="#231815" stroke-width="1.5"/>
<line x1="484.3" y1="1304.3" x2="490.6" y2="1304.3" stroke="#231815" stroke-width="1.5"/>
<line x1="484.3" y1="1315.1" x2="490.6" y2="1315.1" stroke="#231815" stroke-width="1.5"/>
<line x1="484.3" y1="1322.8" x2="490.6" y2="1322.8" stroke="#231815" stroke-width="1.5"/>
<line x1="484.3" y1="1332.5" x2="490.6" y2="1332.5" stroke="#231815" stroke-width="1.5"/>
<line x1="484.3" y1="1338.1" x2="490.6" y2="1338.1" stroke="#231815" stroke-width="1.5"/>
<line x1="484.3" y1="1345.8" x2="490.6" y2="1345.8" stroke="#231815" stroke-width="1.5"/>
<line x1="484.3" y1="1355.2" x2="490.6" y2="1355.2" stroke="#231815" stroke-width="1.5"/>
<line x1="484.3" y1="1363.6" x2="490.6" y2="1363.6" stroke="#231815" stroke-width="1.5"/>
<line x1="484.3" y1="1369.3" x2="490.6" y2="1369.3" stroke="#231815" stroke-width="1.5"/>
<line x1="484.3" y1="1381.4" x2="490.6" y2="1381.4" stroke="#231815" stroke-width="1.5"/>
<line x1="484.3" y1="1390.3" x2="490.6" y2="1390.3" stroke="#231815" stroke-width="1.5"/>
<line x1="484.3" y1="1398.8" x2="490.6" y2="1398.8" stroke="#231815" stroke-width="1.5"/>
<line x1="484.3" y1="1404" x2="490.6" y2="1404" stroke="#231815" stroke-width="1.5"/>
<line x1="484.3" y1="1406.9" x2="490.6" y2="1406.9" stroke="#231815" stroke-width="1.5"/>
<line x1="484.3" y1="1414" x2="490.6" y2="1414" stroke="#231815" stroke-width="1.5"/>
<line x1="484.3" y1="1430.7" x2="490.6" y2="1430.7" stroke="#231815" stroke-width="1.5"/>
<line x1="484.3" y1="1437.6" x2="490.6" y2="1437.6" stroke="#231815" stroke-width="1.5"/>
<line x1="484.3" y1="1454.1" x2="490.6" y2="1454.1" stroke="#231815" stroke-width="1.5"/>
<line x1="484.3" y1="1459.7" x2="490.6" y2="1459.7" stroke="#231815" stroke-width="1.5"/>
<line x1="484.3" y1="1469.9" x2="490.6" y2="1469.9" stroke="#231815" stroke-width="1.5"/>
<line x1="484.3" y1="1493.3" x2="490.6" y2="1493.3" stroke="#231815" stroke-width="1.5"/>
<line x1="484.3" y1="1512.2" x2="490.6" y2="1512.2" stroke="#231815" stroke-width="1.5"/>
<line x1="484.3" y1="1532.8" x2="490.6" y2="1532.8" stroke="#231815" stroke-width="1.5"/>
<line x1="484.3" y1="1545.4" x2="490.6" y2="1545.4" stroke="#231815" stroke-width="1.5"/>
<line x1="484.3" y1="813.4" x2="490.6" y2="813.4" stroke="#231815" stroke-width="1.5"/>
<line x1="484.3" y1="815.6" x2="490.6" y2="815.6" stroke="#231815" stroke-width="1.5"/>
<line x1="484.3" y1="817.8" x2="490.6" y2="817.8" stroke="#231815" stroke-width="1.5"/>
<line x1="484.3" y1="820" x2="490.6" y2="820" stroke="#231815" stroke-width="1.5"/>
<line x1="484.3" y1="822.2" x2="490.6" y2="822.2" stroke="#231815" stroke-width="1.5"/>
<line x1="484.3" y1="824.4" x2="490.6" y2="824.4" stroke="#231815" stroke-width="1.5"/>
<line x1="484.3" y1="826.6" x2="490.6" y2="826.6" stroke="#231815" stroke-width="1.5"/>
<line x1="484.3" y1="828.8" x2="490.6" y2="828.8" stroke="#231815" stroke-width="1.5"/>
<line x1="484.3" y1="831" x2="490.6" y2="831" stroke="#231815" stroke-width="1.5"/>
<line x1="484.3" y1="833.2" x2="490.6" y2="833.2" stroke="#231815" stroke-width="1.5"/>
<line x1="484.3" y1="835.4" x2="490.6" y2="835.4" stroke="#231815" stroke-width="1.5"/>
<line x1="484.3" y1="837.6" x2="490.6" y2="837.6" stroke="#231815" stroke-width="1.5"/>
<line x1="484.3" y1="839.8" x2="490.6" y2="839.8" stroke="#231815" stroke-width="1.5"/>
<polyline points="501,450 548.5,450 658.9,188.4 729.6,188.4" fill="none" stroke="#231815" stroke-width="2"/>
<polyline points="501,893.3 548.5,893.3 660.9,1180.5 728.7,1180.5" fill="none" stroke="#231815" stroke-width="2"/>
<polyline points="501,503 548.5,503 658.9,408.3 729.6,408.3" fill="none" stroke="#231815" stroke-width="2" stroke-dasharray="9.5 6.5"/>
<polyline points="501,513.3 548.5,513.3 660.9,448.1 729.6,448.1" fill="none" stroke="#231815" stroke-width="2" stroke-dasharray="9.5 6.5"/>
<polyline points="501,518.5 548.5,518.5 660.9,466.3 729.6,466.3" fill="none" stroke="#231815" stroke-width="2" stroke-dasharray="9.5 6.5"/>
<polyline points="501,529.1 548.5,529.1 658.9,505.6 729.6,505.6" fill="none" stroke="#231815" stroke-width="2" stroke-dasharray="9.5 6.5"/>
<polyline points="501,590.6 548.5,590.6 660.9,525.6 729.6,525.6" fill="none" stroke="#231815" stroke-width="2" stroke-dasharray="9.5 6.5"/>
<polyline points="501,674.3 548.5,674.3 660.9,600.5 729.6,600.5" fill="none" stroke="#231815" stroke-width="2" stroke-dasharray="9.5 6.5"/>
<polyline points="501,775.5 548.5,775.5 659.9,696.5 729.6,696.5" fill="none" stroke="#231815" stroke-width="2" stroke-dasharray="9.5 6.5"/>
<path d="M738 189.4 L745 188.1 L752.9 186.4 L752.9 192.4 L745 190.7 Z" fill="#231815"/>
<text x="785.2" y="194.7" font-family="Liberation Serif, serif" font-size="14.3" font-weight="normal" font-style="normal" text-anchor="end" fill="#231815" letter-spacing="0.3">108</text>
<path d="M738 208.8 L745 207.5 L752.9 205.8 L752.9 211.8 L745 210.1 Z" fill="#231815"/>
<text x="785.2" y="214.1" font-family="Liberation Serif, serif" font-size="14.3" font-weight="normal" font-style="normal" text-anchor="end" fill="#231815" letter-spacing="0.3">107</text>
<path d="M738 228.7 L745 227.4 L752.9 225.7 L752.9 231.7 L745 230 Z" fill="#231815"/>
<text x="785.2" y="234" font-family="Liberation Serif, serif" font-size="14.3" font-weight="normal" font-style="normal" text-anchor="end" fill="#231815" letter-spacing="0.3">106</text>
<path d="M738 249.4 L745 248.1 L752.9 246.4 L752.9 252.4 L745 250.7 Z" fill="#231815"/>
<text x="785.2" y="254.7" font-family="Liberation Serif, serif" font-size="14.3" font-weight="normal" font-style="normal" text-anchor="end" fill="#231815" letter-spacing="0.3">105</text>
<path d="M738 270.4 L745 269.1 L752.9 267.4 L752.9 273.4 L745 271.7 Z" fill="#231815"/>
<text x="785.2" y="275.7" font-family="Liberation Serif, serif" font-size="14.3" font-weight="normal" font-style="normal" text-anchor="end" fill="#231815" letter-spacing="0.3">104</text>
<path d="M738 290.5 L745 289.2 L752.9 287.5 L752.9 293.5 L745 291.8 Z" fill="#231815"/>
<text x="785.2" y="295.8" font-family="Liberation Serif, serif" font-size="14.3" font-weight="normal" font-style="normal" text-anchor="end" fill="#231815" letter-spacing="0.3">103</text>
<path d="M738 309.1 L745 307.8 L752.9 306.1 L752.9 312.1 L745 310.4 Z" fill="#231815"/>
<text x="785.2" y="314.4" font-family="Liberation Serif, serif" font-size="14.3" font-weight="normal" font-style="normal" text-anchor="end" fill="#231815" letter-spacing="0.3">102</text>
<path d="M738 329.3 L745 328 L752.9 326.3 L752.9 332.3 L745 330.6 Z" fill="#231815"/>
<text x="785.2" y="334.6" font-family="Liberation Serif, serif" font-size="14.3" font-weight="normal" font-style="normal" text-anchor="end" fill="#231815" letter-spacing="0.3">101</text>
<path d="M738 345.9 L745 344.6 L752.9 342.9 L752.9 348.9 L745 347.2 Z" fill="#231815"/>
<text x="785.2" y="351.2" font-family="Liberation Serif, serif" font-size="14.3" font-weight="normal" font-style="normal" text-anchor="end" fill="#231815" letter-spacing="0.3">100</text>
<path d="M738 364.3 L745 363 L752.9 361.3 L752.9 367.3 L745 365.6 Z" fill="#231815"/>
<text x="785.2" y="369.6" font-family="Liberation Serif, serif" font-size="14.3" font-weight="normal" font-style="normal" text-anchor="end" fill="#231815" letter-spacing="0.3">99</text>
<path d="M738 384.1 L745 382.8 L752.9 381.1 L752.9 387.1 L745 385.4 Z" fill="#231815"/>
<text x="785.2" y="389.4" font-family="Liberation Serif, serif" font-size="14.3" font-weight="normal" font-style="normal" text-anchor="end" fill="#231815" letter-spacing="0.3">98</text>
<path d="M738 406.8 L745 405.5 L752.9 403.8 L752.9 409.8 L745 408.1 Z" fill="#231815"/>
<text x="785.2" y="412.1" font-family="Liberation Serif, serif" font-size="14.3" font-weight="normal" font-style="normal" text-anchor="end" fill="#231815" letter-spacing="0.3">97</text>
<path d="M738 427.6 L745 426.3 L752.9 424.6 L752.9 430.6 L745 428.9 Z" fill="#231815"/>
<text x="785.2" y="432.9" font-family="Liberation Serif, serif" font-size="14.3" font-weight="normal" font-style="normal" text-anchor="end" fill="#231815" letter-spacing="0.3">96</text>
<path d="M738 446.8 L745 445.5 L752.9 443.8 L752.9 449.8 L745 448.1 Z" fill="#231815"/>
<text x="785.2" y="452.1" font-family="Liberation Serif, serif" font-size="14.3" font-weight="normal" font-style="normal" text-anchor="end" fill="#231815" letter-spacing="0.3">95</text>
<path d="M738 466.6 L745 465.3 L752.9 463.6 L752.9 469.6 L745 467.9 Z" fill="#231815"/>
<text x="785.2" y="471.9" font-family="Liberation Serif, serif" font-size="14.3" font-weight="normal" font-style="normal" text-anchor="end" fill="#231815" letter-spacing="0.3">94</text>
<path d="M738 486.6 L745 485.3 L752.9 483.6 L752.9 489.6 L745 487.9 Z" fill="#231815"/>
<text x="785.2" y="491.9" font-family="Liberation Serif, serif" font-size="14.3" font-weight="normal" font-style="normal" text-anchor="end" fill="#231815" letter-spacing="0.3">93</text>
<path d="M738 505 L745 503.7 L752.9 502 L752.9 508 L745 506.3 Z" fill="#231815"/>
<text x="785.2" y="510.3" font-family="Liberation Serif, serif" font-size="14.3" font-weight="normal" font-style="normal" text-anchor="end" fill="#231815" letter-spacing="0.3">92</text>
<path d="M738 525.6 L745 524.3 L752.9 522.6 L752.9 528.6 L745 526.9 Z" fill="#231815"/>
<text x="785.2" y="530.9" font-family="Liberation Serif, serif" font-size="14.3" font-weight="normal" font-style="normal" text-anchor="end" fill="#231815" letter-spacing="0.3">91</text>
<path d="M738 544.3 L745 543 L752.9 541.3 L752.9 547.3 L745 545.6 Z" fill="#231815"/>
<text x="785.2" y="549.6" font-family="Liberation Serif, serif" font-size="14.3" font-weight="normal" font-style="normal" text-anchor="end" fill="#231815" letter-spacing="0.3">90</text>
<path d="M738 564 L745 562.7 L752.9 561 L752.9 567 L745 565.3 Z" fill="#231815"/>
<text x="785.2" y="569.3" font-family="Liberation Serif, serif" font-size="14.3" font-weight="normal" font-style="normal" text-anchor="end" fill="#231815" letter-spacing="0.3">89</text>
<path d="M738 582.6 L745 581.3 L752.9 579.6 L752.9 585.6 L745 583.9 Z" fill="#231815"/>
<text x="785.2" y="587.9" font-family="Liberation Serif, serif" font-size="14.3" font-weight="normal" font-style="normal" text-anchor="end" fill="#231815" letter-spacing="0.3">88</text>
<path d="M738 600.3 L745 599 L752.9 597.3 L752.9 603.3 L745 601.6 Z" fill="#231815"/>
<text x="785.2" y="605.6" font-family="Liberation Serif, serif" font-size="14.3" font-weight="normal" font-style="normal" text-anchor="end" fill="#231815" letter-spacing="0.3">87</text>
<path d="M738 619.8 L745 618.5 L752.9 616.8 L752.9 622.8 L745 621.1 Z" fill="#231815"/>
<text x="785.2" y="625.1" font-family="Liberation Serif, serif" font-size="14.3" font-weight="normal" font-style="normal" text-anchor="end" fill="#231815" letter-spacing="0.3">86</text>
<path d="M738 638.9 L745 637.6 L752.9 635.9 L752.9 641.9 L745 640.2 Z" fill="#231815"/>
<text x="785.2" y="644.2" font-family="Liberation Serif, serif" font-size="14.3" font-weight="normal" font-style="normal" text-anchor="end" fill="#231815" letter-spacing="0.3">85</text>
<path d="M738 658.3 L745 657 L752.9 655.3 L752.9 661.3 L745 659.6 Z" fill="#231815"/>
<text x="785.2" y="663.6" font-family="Liberation Serif, serif" font-size="14.3" font-weight="normal" font-style="normal" text-anchor="end" fill="#231815" letter-spacing="0.3">84</text>
<path d="M738 677.7 L745 676.4 L752.9 674.7 L752.9 680.7 L745 679 Z" fill="#231815"/>
<text x="785.2" y="683" font-family="Liberation Serif, serif" font-size="14.3" font-weight="normal" font-style="normal" text-anchor="end" fill="#231815" letter-spacing="0.3">83</text>
<path d="M738 696.8 L745 695.5 L752.9 693.8 L752.9 699.8 L745 698.1 Z" fill="#231815"/>
<text x="785.2" y="702.1" font-family="Liberation Serif, serif" font-size="14.3" font-weight="normal" font-style="normal" text-anchor="end" fill="#231815" letter-spacing="0.3">82</text>
<path d="M738 716.6 L745 715.3 L752.9 713.6 L752.9 719.6 L745 717.9 Z" fill="#231815"/>
<text x="785.2" y="721.9" font-family="Liberation Serif, serif" font-size="14.3" font-weight="normal" font-style="normal" text-anchor="end" fill="#231815" letter-spacing="0.3">81</text>
<path d="M738 737.2 L745 735.9 L752.9 734.2 L752.9 740.2 L745 738.5 Z" fill="#231815"/>
<text x="785.2" y="742.5" font-family="Liberation Serif, serif" font-size="14.3" font-weight="normal" font-style="normal" text-anchor="end" fill="#231815" letter-spacing="0.3">80</text>
<path d="M738 755.2 L745 753.9 L752.9 752.2 L752.9 758.2 L745 756.5 Z" fill="#231815"/>
<text x="785.2" y="760.5" font-family="Liberation Serif, serif" font-size="14.3" font-weight="normal" font-style="normal" text-anchor="end" fill="#231815" letter-spacing="0.3">79</text>
<path d="M738 772.6 L745 771.3 L752.9 769.6 L752.9 775.6 L745 773.9 Z" fill="#231815"/>
<text x="785.2" y="777.9" font-family="Liberation Serif, serif" font-size="14.3" font-weight="normal" font-style="normal" text-anchor="end" fill="#231815" letter-spacing="0.3">78</text>
<path d="M738 790.2 L745 788.9 L752.9 787.2 L752.9 793.2 L745 791.5 Z" fill="#231815"/>
<text x="785.2" y="795.5" font-family="Liberation Serif, serif" font-size="14.3" font-weight="normal" font-style="normal" text-anchor="end" fill="#231815" letter-spacing="0.3">77</text>
<path d="M738 807.6 L745 806.3 L752.9 804.6 L752.9 810.6 L745 808.9 Z" fill="#231815"/>
<text x="785.2" y="812.9" font-family="Liberation Serif, serif" font-size="14.3" font-weight="normal" font-style="normal" text-anchor="end" fill="#231815" letter-spacing="0.3">76</text>
<path d="M738 827.7 L745 826.4 L752.9 824.7 L752.9 830.7 L745 829 Z" fill="#231815"/>
<text x="785.2" y="833" font-family="Liberation Serif, serif" font-size="14.3" font-weight="normal" font-style="normal" text-anchor="end" fill="#231815" letter-spacing="0.3">75</text>
<path d="M738 845.3 L745 844 L752.9 842.3 L752.9 848.3 L745 846.6 Z" fill="#231815"/>
<text x="785.2" y="850.6" font-family="Liberation Serif, serif" font-size="14.3" font-weight="normal" font-style="normal" text-anchor="end" fill="#231815" letter-spacing="0.3">74</text>
<path d="M738 863.6 L745 862.3 L752.9 860.6 L752.9 866.6 L745 864.9 Z" fill="#231815"/>
<text x="785.2" y="868.9" font-family="Liberation Serif, serif" font-size="14.3" font-weight="normal" font-style="normal" text-anchor="end" fill="#231815" letter-spacing="0.3">73</text>
<path d="M738 887.1 L745 885.8 L752.9 884.1 L752.9 890.1 L745 888.4 Z" fill="#231815"/>
<text x="785.2" y="892.4" font-family="Liberation Serif, serif" font-size="14.3" font-weight="normal" font-style="normal" text-anchor="end" fill="#231815" letter-spacing="0.3">72</text>
<path d="M738 906.7 L745 905.4 L752.9 903.7 L752.9 909.7 L745 908 Z" fill="#231815"/>
<text x="785.2" y="912" font-family="Liberation Serif, serif" font-size="14.3" font-weight="normal" font-style="normal" text-anchor="end" fill="#231815" letter-spacing="0.3">71</text>
<path d="M738 924.4 L745 923.1 L752.9 921.4 L752.9 927.4 L745 925.7 Z" fill="#231815"/>
<text x="785.2" y="929.7" font-family="Liberation Serif, serif" font-size="14.3" font-weight="normal" font-style="normal" text-anchor="end" fill="#231815" letter-spacing="0.3">70</text>
<path d="M738 941.8 L745 940.5 L752.9 938.8 L752.9 944.8 L745 943.1 Z" fill="#231815"/>
<text x="785.2" y="947.1" font-family="Liberation Serif, serif" font-size="14.3" font-weight="normal" font-style="normal" text-anchor="end" fill="#231815" letter-spacing="0.3">69</text>
<path d="M738 961.7 L745 960.4 L752.9 958.7 L752.9 964.7 L745 963 Z" fill="#231815"/>
<text x="785.2" y="967" font-family="Liberation Serif, serif" font-size="14.3" font-weight="normal" font-style="normal" text-anchor="end" fill="#231815" letter-spacing="0.3">68</text>
<path d="M738 980 L745 978.7 L752.9 977 L752.9 983 L745 981.3 Z" fill="#231815"/>
<text x="785.2" y="985.3" font-family="Liberation Serif, serif" font-size="14.3" font-weight="normal" font-style="normal" text-anchor="end" fill="#231815" letter-spacing="0.3">67</text>
<path d="M738 995.6 L745 994.3 L752.9 992.6 L752.9 998.6 L745 996.9 Z" fill="#231815"/>
<text x="785.2" y="1000.9" font-family="Liberation Serif, serif" font-size="14.3" font-weight="normal" font-style="normal" text-anchor="end" fill="#231815" letter-spacing="0.3">66</text>
<path d="M738 1015 L745 1013.7 L752.9 1012 L752.9 1018 L745 1016.3 Z" fill="#231815"/>
<text x="785.2" y="1020.3" font-family="Liberation Serif, serif" font-size="14.3" font-weight="normal" font-style="normal" text-anchor="end" fill="#231815" letter-spacing="0.3">65</text>
<path d="M738 1030.8 L745 1029.5 L752.9 1027.8 L752.9 1033.8 L745 1032.1 Z" fill="#231815"/>
<text x="785.2" y="1036.1" font-family="Liberation Serif, serif" font-size="14.3" font-weight="normal" font-style="normal" text-anchor="end" fill="#231815" letter-spacing="0.3">64</text>
<path d="M738 1048.5 L745 1047.2 L752.9 1045.5 L752.9 1051.5 L745 1049.8 Z" fill="#231815"/>
<text x="785.2" y="1053.8" font-family="Liberation Serif, serif" font-size="14.3" font-weight="normal" font-style="normal" text-anchor="end" fill="#231815" letter-spacing="0.3">63</text>
<path d="M738 1068 L745 1066.7 L752.9 1065 L752.9 1071 L745 1069.3 Z" fill="#231815"/>
<text x="785.2" y="1073.3" font-family="Liberation Serif, serif" font-size="14.3" font-weight="normal" font-style="normal" text-anchor="end" fill="#231815" letter-spacing="0.3">62</text>
<path d="M738 1087.6 L745 1086.3 L752.9 1084.6 L752.9 1090.6 L745 1088.9 Z" fill="#231815"/>
<text x="785.2" y="1092.9" font-family="Liberation Serif, serif" font-size="14.3" font-weight="normal" font-style="normal" text-anchor="end" fill="#231815" letter-spacing="0.3">61</text>
<path d="M738 1107 L745 1105.7 L752.9 1104 L752.9 1110 L745 1108.3 Z" fill="#231815"/>
<text x="785.2" y="1112.3" font-family="Liberation Serif, serif" font-size="14.3" font-weight="normal" font-style="normal" text-anchor="end" fill="#231815" letter-spacing="0.3">60</text>
<path d="M738 1126.8 L745 1125.5 L752.9 1123.8 L752.9 1129.8 L745 1128.1 Z" fill="#231815"/>
<text x="785.2" y="1132.1" font-family="Liberation Serif, serif" font-size="14.3" font-weight="normal" font-style="normal" text-anchor="end" fill="#231815" letter-spacing="0.3">59</text>
<path d="M738 1144.5 L745 1143.2 L752.9 1141.5 L752.9 1147.5 L745 1145.8 Z" fill="#231815"/>
<text x="785.2" y="1149.8" font-family="Liberation Serif, serif" font-size="14.3" font-weight="normal" font-style="normal" text-anchor="end" fill="#231815" letter-spacing="0.3">58</text>
<path d="M738 1162 L745 1160.7 L752.9 1159 L752.9 1165 L745 1163.3 Z" fill="#231815"/>
<text x="785.2" y="1167.3" font-family="Liberation Serif, serif" font-size="14.3" font-weight="normal" font-style="normal" text-anchor="end" fill="#231815" letter-spacing="0.3">57</text>
<path d="M738 1179.6 L745 1178.3 L752.9 1176.6 L752.9 1182.6 L745 1180.9 Z" fill="#231815"/>
<text x="785.2" y="1184.9" font-family="Liberation Serif, serif" font-size="14.3" font-weight="normal" font-style="normal" text-anchor="end" fill="#231815" letter-spacing="0.3">56</text>
<line x1="850.1" y1="102.5" x2="1766.3" y2="102.5" stroke="#231815" stroke-width="2"/>
<line x1="851.1" y1="72.5" x2="851.1" y2="102.5" stroke="#231815" stroke-width="2"/>
<text x="851.4" y="142.8" font-family="Liberation Serif, serif" font-size="28.2" font-weight="normal" font-style="normal" text-anchor="middle" fill="#231815" letter-spacing="1">0</text>
<line x1="965.38" y1="87.2" x2="965.38" y2="102.5" stroke="#231815" stroke-width="2"/>
<text x="965.67" y="142.8" font-family="Liberation Serif, serif" font-size="28.2" font-weight="normal" font-style="normal" text-anchor="middle" fill="#231815" letter-spacing="1">10</text>
<line x1="1079.65" y1="72.5" x2="1079.65" y2="102.5" stroke="#231815" stroke-width="2"/>
<text x="1079.95" y="142.8" font-family="Liberation Serif, serif" font-size="28.2" font-weight="normal" font-style="normal" text-anchor="middle" fill="#231815" letter-spacing="1">20</text>
<line x1="1193.92" y1="87.2" x2="1193.92" y2="102.5" stroke="#231815" stroke-width="2"/>
<text x="1194.22" y="142.8" font-family="Liberation Serif, serif" font-size="28.2" font-weight="normal" font-style="normal" text-anchor="middle" fill="#231815" letter-spacing="1">30</text>
<line x1="1308.2" y1="72.5" x2="1308.2" y2="102.5" stroke="#231815" stroke-width="2"/>
<text x="1308.5" y="142.8" font-family="Liberation Serif, serif" font-size="28.2" font-weight="normal" font-style="normal" text-anchor="middle" fill="#231815" letter-spacing="1">40</text>
<line x1="1422.47" y1="87.2" x2="1422.47" y2="102.5" stroke="#231815" stroke-width="2"/>
<text x="1422.77" y="142.8" font-family="Liberation Serif, serif" font-size="28.2" font-weight="normal" font-style="normal" text-anchor="middle" fill="#231815" letter-spacing="1">50</text>
<line x1="1536.75" y1="72.5" x2="1536.75" y2="102.5" stroke="#231815" stroke-width="2"/>
<text x="1537.05" y="142.8" font-family="Liberation Serif, serif" font-size="28.2" font-weight="normal" font-style="normal" text-anchor="middle" fill="#231815" letter-spacing="1">60</text>
<line x1="1651.03" y1="87.2" x2="1651.03" y2="102.5" stroke="#231815" stroke-width="2"/>
<text x="1651.33" y="142.8" font-family="Liberation Serif, serif" font-size="28.2" font-weight="normal" font-style="normal" text-anchor="middle" fill="#231815" letter-spacing="1">70</text>
<line x1="1765.3" y1="72.5" x2="1765.3" y2="102.5" stroke="#231815" stroke-width="2"/>
<text x="1765.6" y="142.8" font-family="Liberation Serif, serif" font-size="28.2" font-weight="normal" font-style="normal" text-anchor="middle" fill="#231815" letter-spacing="1">80</text>
<text x="1111.5" y="27.6" font-family="Liberation Serif, serif" font-size="38.5" font-weight="normal" font-style="normal" fill="#231815" letter-spacing="2.46">Framboid</text>
<text x="1288.55" y="27.6" font-family="Liberation Serif, serif" font-size="38.5" font-weight="normal" font-style="normal" fill="#231815" letter-spacing="2.51">diameter,</text>
<text transform="translate(1459.5 27.6) scale(1.2 1)" font-family="Liberation Serif, serif" font-size="38.5" fill="#231815">μ</text>
<text x="1486.2" y="27.6" font-family="Liberation Serif, serif" font-size="38.5" fill="#231815">m</text>
<line x1="914" y1="329.9" x2="1025.8" y2="329.9" stroke="#231815" stroke-width="1.6"/>
<rect x="931.8" y="324.5" width="33" height="10.8" fill="#e60012" stroke="#3e3a39" stroke-width="1.3"/>
<line x1="944.4" y1="324.5" x2="944.4" y2="335.3" stroke="#3e3a39" stroke-width="1.3"/>
<line x1="877" y1="406.8" x2="961.5" y2="406.8" stroke="#231815" stroke-width="1.6"/>
<rect x="893.1" y="401.4" width="15.5" height="10.8" fill="#e60012" stroke="#3e3a39" stroke-width="1.3"/>
<line x1="899.3" y1="401.4" x2="899.3" y2="412.2" stroke="#3e3a39" stroke-width="1.3"/>
<line x1="887.6" y1="427.7" x2="1012.6" y2="427.7" stroke="#231815" stroke-width="1.6"/>
<rect x="910.5" y="422.3" width="17.1" height="10.8" fill="#e60012" stroke="#3e3a39" stroke-width="1.3"/>
<line x1="921.2" y1="422.3" x2="921.2" y2="433.1" stroke="#3e3a39" stroke-width="1.3"/>
<line x1="886.3" y1="447.1" x2="962.4" y2="447.1" stroke="#231815" stroke-width="1.6"/>
<rect x="911.5" y="441.7" width="22.8" height="10.8" fill="#e60012" stroke="#3e3a39" stroke-width="1.3"/>
<line x1="922.1" y1="441.7" x2="922.1" y2="452.5" stroke="#3e3a39" stroke-width="1.3"/>
<line x1="883.3" y1="466.7" x2="990.7" y2="466.7" stroke="#231815" stroke-width="1.6"/>
<rect x="906.8" y="461.3" width="25.9" height="10.8" fill="#e60012" stroke="#3e3a39" stroke-width="1.3"/>
<line x1="918.9" y1="461.3" x2="918.9" y2="472.1" stroke="#3e3a39" stroke-width="1.3"/>
<line x1="887" y1="486.4" x2="1065.1" y2="486.4" stroke="#231815" stroke-width="1.6"/>
<rect x="908.4" y="481" width="25.1" height="10.8" fill="#e60012" stroke="#3e3a39" stroke-width="1.3"/>
<line x1="920.3" y1="481" x2="920.3" y2="491.8" stroke="#3e3a39" stroke-width="1.3"/>
<line x1="889.5" y1="504.9" x2="979.4" y2="504.9" stroke="#231815" stroke-width="1.6"/>
<rect x="906.3" y="499.5" width="21.2" height="10.8" fill="#e60012" stroke="#3e3a39" stroke-width="1.3"/>
<line x1="920.3" y1="499.5" x2="920.3" y2="510.3" stroke="#3e3a39" stroke-width="1.3"/>
<line x1="888.4" y1="525.6" x2="1021.7" y2="525.6" stroke="#231815" stroke-width="1.6"/>
<rect x="906.8" y="520.2" width="28.6" height="10.8" fill="#e60012" stroke="#3e3a39" stroke-width="1.3"/>
<line x1="918.9" y1="520.2" x2="918.9" y2="531" stroke="#3e3a39" stroke-width="1.3"/>
<line x1="886.4" y1="544.1" x2="971.3" y2="544.1" stroke="#231815" stroke-width="1.6"/>
<rect x="911.9" y="538.7" width="32.7" height="10.8" fill="#e60012" stroke="#3e3a39" stroke-width="1.3"/>
<line x1="926.5" y1="538.7" x2="926.5" y2="549.5" stroke="#3e3a39" stroke-width="1.3"/>
<line x1="889.7" y1="564" x2="1010" y2="564" stroke="#231815" stroke-width="1.6"/>
<rect x="908.9" y="558.6" width="33.6" height="10.8" fill="#e60012" stroke="#3e3a39" stroke-width="1.3"/>
<line x1="918.6" y1="558.6" x2="918.6" y2="569.4" stroke="#3e3a39" stroke-width="1.3"/>
<line x1="886.4" y1="582.5" x2="974" y2="582.5" stroke="#231815" stroke-width="1.6"/>
<rect x="914.4" y="577.1" width="24.7" height="10.8" fill="#e60012" stroke="#3e3a39" stroke-width="1.3"/>
<line x1="928.2" y1="577.1" x2="928.2" y2="587.9" stroke="#3e3a39" stroke-width="1.3"/>
<line x1="889.7" y1="600" x2="956.2" y2="600" stroke="#231815" stroke-width="1.6"/>
<rect x="906" y="594.6" width="18" height="10.8" fill="#e60012" stroke="#3e3a39" stroke-width="1.3"/>
<line x1="913.1" y1="594.6" x2="913.1" y2="605.4" stroke="#3e3a39" stroke-width="1.3"/>
<line x1="892.6" y1="620" x2="997.4" y2="620" stroke="#231815" stroke-width="1.6"/>
<rect x="914.4" y="614.6" width="28.1" height="10.8" fill="#e60012" stroke="#3e3a39" stroke-width="1.3"/>
<line x1="931.5" y1="614.6" x2="931.5" y2="625.4" stroke="#3e3a39" stroke-width="1.3"/>
<line x1="897.1" y1="638.9" x2="1011.8" y2="638.9" stroke="#231815" stroke-width="1.6"/>
<rect x="921.5" y="633.5" width="28.8" height="10.8" fill="#e60012" stroke="#3e3a39" stroke-width="1.3"/>
<line x1="931.9" y1="633.5" x2="931.9" y2="644.3" stroke="#3e3a39" stroke-width="1.3"/>
<line x1="909.7" y1="696.8" x2="1341.2" y2="696.8" stroke="#231815" stroke-width="1.6"/>
<rect x="931.5" y="691.4" width="20.2" height="10.8" fill="#e60012" stroke="#3e3a39" stroke-width="1.3"/>
<line x1="940.3" y1="691.4" x2="940.3" y2="702.2" stroke="#3e3a39" stroke-width="1.3"/>
<line x1="911.4" y1="716.6" x2="1278.7" y2="716.6" stroke="#231815" stroke-width="1.6"/>
<rect x="934.6" y="711.2" width="31.7" height="10.8" fill="#e60012" stroke="#3e3a39" stroke-width="1.3"/>
<line x1="949.5" y1="711.2" x2="949.5" y2="722" stroke="#3e3a39" stroke-width="1.3"/>
<line x1="898.3" y1="790.3" x2="1375.1" y2="790.3" stroke="#231815" stroke-width="1.6"/>
<rect x="929" y="784.9" width="28.1" height="10.8" fill="#e60012" stroke="#3e3a39" stroke-width="1.3"/>
<line x1="940.4" y1="784.9" x2="940.4" y2="795.7" stroke="#3e3a39" stroke-width="1.3"/>
<line x1="914.7" y1="807.6" x2="1208.9" y2="807.6" stroke="#231815" stroke-width="1.6"/>
<rect x="935.4" y="802.2" width="52.4" height="10.8" fill="#e60012" stroke="#3e3a39" stroke-width="1.3"/>
<line x1="955.4" y1="802.2" x2="955.4" y2="813" stroke="#3e3a39" stroke-width="1.3"/>
<line x1="900" y1="827.8" x2="1140.7" y2="827.8" stroke="#231815" stroke-width="1.6"/>
<rect x="923.6" y="822.4" width="27.2" height="10.8" fill="#e60012" stroke="#3e3a39" stroke-width="1.3"/>
<line x1="937.1" y1="822.4" x2="937.1" y2="833.2" stroke="#3e3a39" stroke-width="1.3"/>
<line x1="912.6" y1="863.6" x2="1084.6" y2="863.6" stroke="#231815" stroke-width="1.6"/>
<rect x="930.2" y="855.6" width="18.1" height="10.8" fill="#e60012" stroke="#3e3a39" stroke-width="1.3"/>
<line x1="937.4" y1="855.6" x2="937.4" y2="866.4" stroke="#3e3a39" stroke-width="1.3"/>
<line x1="904.3" y1="887.1" x2="1586.6" y2="887.1" stroke="#231815" stroke-width="1.6"/>
<rect x="925.7" y="881.7" width="62.1" height="10.8" fill="#e60012" stroke="#3e3a39" stroke-width="1.3"/>
<line x1="945" y1="881.7" x2="945" y2="892.5" stroke="#3e3a39" stroke-width="1.3"/>
<line x1="905" y1="906.7" x2="1537.1" y2="906.7" stroke="#231815" stroke-width="1.6"/>
<rect x="943.6" y="901.3" width="71.1" height="10.8" fill="#e60012" stroke="#3e3a39" stroke-width="1.3"/>
<line x1="964.6" y1="901.3" x2="964.6" y2="912.1" stroke="#3e3a39" stroke-width="1.3"/>
<line x1="911.4" y1="924.4" x2="1189.6" y2="924.4" stroke="#231815" stroke-width="1.6"/>
<rect x="953.7" y="919" width="34.1" height="10.8" fill="#e60012" stroke="#3e3a39" stroke-width="1.3"/>
<line x1="973.2" y1="919" x2="973.2" y2="929.8" stroke="#3e3a39" stroke-width="1.3"/>
<line x1="915.9" y1="941.8" x2="1055.3" y2="941.8" stroke="#231815" stroke-width="1.6"/>
<rect x="937.4" y="936.4" width="34.4" height="10.8" fill="#e60012" stroke="#3e3a39" stroke-width="1.3"/>
<line x1="952.5" y1="936.4" x2="952.5" y2="947.2" stroke="#3e3a39" stroke-width="1.3"/>
<line x1="925.2" y1="961.7" x2="1217" y2="961.7" stroke="#231815" stroke-width="1.6"/>
<rect x="940.4" y="956.3" width="34" height="10.8" fill="#e60012" stroke="#3e3a39" stroke-width="1.3"/>
<line x1="953.7" y1="956.3" x2="953.7" y2="967.1" stroke="#3e3a39" stroke-width="1.3"/>
<line x1="902.5" y1="995.6" x2="1200.6" y2="995.6" stroke="#231815" stroke-width="1.6"/>
<rect x="934.4" y="990.2" width="37.3" height="10.8" fill="#e60012" stroke="#3e3a39" stroke-width="1.3"/>
<line x1="952.2" y1="990.2" x2="952.2" y2="1001" stroke="#3e3a39" stroke-width="1.3"/>
<line x1="905.8" y1="1015.1" x2="1065.6" y2="1015.1" stroke="#231815" stroke-width="1.6"/>
<rect x="934.4" y="1009.7" width="26.2" height="10.8" fill="#e60012" stroke="#3e3a39" stroke-width="1.3"/>
<line x1="945" y1="1009.7" x2="945" y2="1020.5" stroke="#3e3a39" stroke-width="1.3"/>
<line x1="932" y1="1030.8" x2="1070.2" y2="1030.8" stroke="#231815" stroke-width="1.6"/>
<rect x="950.8" y="1025.4" width="20.2" height="10.8" fill="#e60012" stroke="#3e3a39" stroke-width="1.3"/>
<line x1="960.9" y1="1025.4" x2="960.9" y2="1036.2" stroke="#3e3a39" stroke-width="1.3"/>
<line x1="913.1" y1="1048.5" x2="1096.7" y2="1048.5" stroke="#231815" stroke-width="1.6"/>
<rect x="945" y="1043.1" width="30.5" height="10.8" fill="#e60012" stroke="#3e3a39" stroke-width="1.3"/>
<line x1="959.6" y1="1043.1" x2="959.6" y2="1053.9" stroke="#3e3a39" stroke-width="1.3"/>
<line x1="916.4" y1="1067.9" x2="1133.4" y2="1067.9" stroke="#231815" stroke-width="1.6"/>
<rect x="936.1" y="1062.5" width="42.5" height="10.8" fill="#e60012" stroke="#3e3a39" stroke-width="1.3"/>
<line x1="955.4" y1="1062.5" x2="955.4" y2="1073.3" stroke="#3e3a39" stroke-width="1.3"/>
<line x1="915.2" y1="1087.5" x2="1117.2" y2="1087.5" stroke="#231815" stroke-width="1.6"/>
<rect x="934.4" y="1082.1" width="36.6" height="10.8" fill="#e60012" stroke="#3e3a39" stroke-width="1.3"/>
<line x1="951.4" y1="1082.1" x2="951.4" y2="1092.9" stroke="#3e3a39" stroke-width="1.3"/>
<line x1="910.2" y1="1107" x2="1097.6" y2="1107" stroke="#231815" stroke-width="1.6"/>
<rect x="939.9" y="1101.6" width="38.2" height="10.8" fill="#e60012" stroke="#3e3a39" stroke-width="1.3"/>
<line x1="955.9" y1="1101.6" x2="955.9" y2="1112.4" stroke="#3e3a39" stroke-width="1.3"/>
<line x1="909.2" y1="1126.8" x2="1283.9" y2="1126.8" stroke="#231815" stroke-width="1.6"/>
<rect x="932.7" y="1121.4" width="41.7" height="10.8" fill="#e60012" stroke="#3e3a39" stroke-width="1.3"/>
<line x1="945.5" y1="1121.4" x2="945.5" y2="1132.2" stroke="#3e3a39" stroke-width="1.3"/>
<line x1="903.5" y1="1144.5" x2="1027.5" y2="1144.5" stroke="#231815" stroke-width="1.6"/>
<rect x="923.1" y="1139.1" width="50.1" height="10.8" fill="#e60012" stroke="#3e3a39" stroke-width="1.3"/>
<line x1="946.1" y1="1139.1" x2="946.1" y2="1149.9" stroke="#3e3a39" stroke-width="1.3"/>
<line x1="900.1" y1="1162" x2="1252.1" y2="1162" stroke="#231815" stroke-width="1.6"/>
<rect x="912.7" y="1156.6" width="34.8" height="10.8" fill="#e60012" stroke="#3e3a39" stroke-width="1.3"/>
<line x1="925.7" y1="1156.6" x2="925.7" y2="1167.4" stroke="#3e3a39" stroke-width="1.3"/>
<line x1="901.6" y1="1179.6" x2="1069.9" y2="1179.6" stroke="#231815" stroke-width="1.6"/>
<rect x="924.3" y="1174.2" width="37.8" height="10.8" fill="#e60012" stroke="#3e3a39" stroke-width="1.3"/>
<line x1="937.1" y1="1174.2" x2="937.1" y2="1185" stroke="#3e3a39" stroke-width="1.3"/>
<text x="921.2" y="194.2" font-family="Liberation Serif, serif" font-size="13.8" font-weight="normal" font-style="normal" text-anchor="start" fill="#231815" letter-spacing="0.45" stroke="#231815" stroke-width="0.25">no framboid</text>
<text x="921.2" y="213.5" font-family="Liberation Serif, serif" font-size="13.8" font-weight="normal" font-style="normal" text-anchor="start" fill="#231815" letter-spacing="0.45" stroke="#231815" stroke-width="0.25">no framboid</text>
<text x="921.2" y="233.5" font-family="Liberation Serif, serif" font-size="13.8" font-weight="normal" font-style="normal" text-anchor="start" fill="#231815" letter-spacing="0.45" stroke="#231815" stroke-width="0.25">no framboid</text>
<text x="921.2" y="253.5" font-family="Liberation Serif, serif" font-size="13.8" font-weight="normal" font-style="normal" text-anchor="start" fill="#231815" letter-spacing="0.45" stroke="#231815" stroke-width="0.25">no framboid</text>
<text x="921.2" y="274" font-family="Liberation Serif, serif" font-size="13.8" font-weight="normal" font-style="normal" text-anchor="start" fill="#231815" letter-spacing="0.45" stroke="#231815" stroke-width="0.25">no framboid</text>
<text x="921.2" y="294" font-family="Liberation Serif, serif" font-size="13.8" font-weight="normal" font-style="normal" text-anchor="start" fill="#231815" letter-spacing="0.45" stroke="#231815" stroke-width="0.25">no framboid</text>
<text x="921.2" y="313" font-family="Liberation Serif, serif" font-size="13.8" font-weight="normal" font-style="normal" text-anchor="start" fill="#231815" letter-spacing="0.45" stroke="#231815" stroke-width="0.25">no framboid</text>
<text x="921.2" y="350.5" font-family="Liberation Serif, serif" font-size="13.8" font-weight="normal" font-style="normal" text-anchor="start" fill="#231815" letter-spacing="0.45" stroke="#231815" stroke-width="0.25">no framboid</text>
<text x="921.2" y="369.2" font-family="Liberation Serif, serif" font-size="13.8" font-weight="normal" font-style="normal" text-anchor="start" fill="#231815" letter-spacing="0.45" stroke="#231815" stroke-width="0.25">no framboid</text>
<text x="921.2" y="388.2" font-family="Liberation Serif, serif" font-size="13.8" font-weight="normal" font-style="normal" text-anchor="start" fill="#231815" letter-spacing="0.45" stroke="#231815" stroke-width="0.25">no framboid</text>
<text x="921.2" y="661.3" font-family="Liberation Serif, serif" font-size="13.8" font-weight="normal" font-style="normal" text-anchor="start" fill="#231815" letter-spacing="0.45" stroke="#231815" stroke-width="0.25">no framboid</text>
<text x="921.2" y="679.8" font-family="Liberation Serif, serif" font-size="13.8" font-weight="normal" font-style="normal" text-anchor="start" fill="#231815" letter-spacing="0.45" stroke="#231815" stroke-width="0.25">no framboid</text>
<text x="921.2" y="739.6" font-family="Liberation Serif, serif" font-size="13.8" font-weight="normal" font-style="normal" text-anchor="start" fill="#231815" letter-spacing="0.45" stroke="#231815" stroke-width="0.25">no framboid</text>
<text x="921.2" y="757.3" font-family="Liberation Serif, serif" font-size="13.8" font-weight="normal" font-style="normal" text-anchor="start" fill="#231815" letter-spacing="0.45" stroke="#231815" stroke-width="0.25">no framboid</text>
<text x="921.2" y="773.5" font-family="Liberation Serif, serif" font-size="13.8" font-weight="normal" font-style="normal" text-anchor="start" fill="#231815" letter-spacing="0.45" stroke="#231815" stroke-width="0.25">no framboid</text>
<text x="921.2" y="851.7" font-family="Liberation Serif, serif" font-size="13.8" font-weight="normal" font-style="normal" text-anchor="start" fill="#231815" letter-spacing="0.45" stroke="#231815" stroke-width="0.25">no framboid</text>
<text x="921.2" y="982.1" font-family="Liberation Serif, serif" font-size="13.8" font-weight="normal" font-style="normal" text-anchor="start" fill="#231815" letter-spacing="0.45" stroke="#231815" stroke-width="0.25">no framboid</text>
<path d="M823.7 405 L845 405 L845 408.6 L823.7 408.6 Z M843.3 398 L859.8 406.8 L843.3 415.6 Z" fill="#231815"/>
<path d="M823.7 445.3 L845 445.3 L845 448.9 L823.7 448.9 Z M843.3 438.3 L859.8 447.1 L843.3 455.9 Z" fill="#231815"/>
<path d="M823.7 464.9 L845 464.9 L845 468.5 L823.7 468.5 Z M843.3 457.9 L859.8 466.7 L843.3 475.5 Z" fill="#231815"/>
<path d="M823.7 503.1 L845 503.1 L845 506.7 L823.7 506.7 Z M843.3 496.1 L859.8 504.9 L843.3 513.7 Z" fill="#231815"/>
<path d="M823.7 598.2 L845 598.2 L845 601.8 L823.7 601.8 Z M843.3 591.2 L859.8 600 L843.3 608.8 Z" fill="#231815"/>
<path d="M1100.5 384.2 L1410 381.9" stroke="#231815" stroke-width="2" stroke-dasharray="10.5 6.5" fill="none"/>
<path d="M1512.4 384.5 L1684.6 384.5" stroke="#231815" stroke-width="2" stroke-dasharray="10.5 6.5" fill="none"/>
<path d="M1726 384.5 L1789.5 502.3 L1908 502.3" stroke="#231815" stroke-width="2" stroke-dasharray="10.5 6.5" fill="none"/>
<text x="1426.95" y="398.1" font-family="Liberation Serif, serif" font-size="40" font-weight="bold" font-style="normal" fill="#231815" letter-spacing="1.17">TJB</text>
<rect x="1684.8" y="319.2" width="40.7" height="835.1" fill="#7f7f7f" stroke="none" stroke-width="0"/>
<rect x="1684.8" y="391.5" width="40.7" height="22" fill="#231815" stroke="none" stroke-width="0"/>
<rect x="1684.8" y="437.4" width="40.7" height="36.9" fill="#231815" stroke="none" stroke-width="0"/>
<rect x="1684.8" y="495.9" width="40.7" height="18" fill="#231815" stroke="none" stroke-width="0"/>
<rect x="1684.8" y="592.5" width="40.7" height="18.1" fill="#231815" stroke="none" stroke-width="0"/>
<rect x="1684.8" y="644.5" width="40.7" height="44" fill="#ffffff" stroke="none" stroke-width="0"/>
<rect x="1684.8" y="727.9" width="40.7" height="53.3" fill="#ffffff" stroke="none" stroke-width="0"/>
<rect x="1684.8" y="836.4" width="40.7" height="16.2" fill="#ffffff" stroke="none" stroke-width="0"/>
<rect x="1684.8" y="968.2" width="40.7" height="17.7" fill="#ffffff" stroke="none" stroke-width="0"/>
<rect x="1684.8" y="319.2" width="40.7" height="835.1" fill="none" stroke="#3e3a39" stroke-width="1.2"/>
<rect x="597.5" y="1265.7" width="143.1" height="80" fill="#a0d8f4" stroke="none" stroke-width="0"/>
<line x1="597.5" y1="1291.1" x2="740.6" y2="1291.1" stroke="#231815" stroke-width="2"/>
<line x1="597.5" y1="1321.2" x2="740.6" y2="1321.2" stroke="#231815" stroke-width="2"/>
<line x1="674" y1="1265.7" x2="674" y2="1291.1" stroke="#231815" stroke-width="2"/>
<line x1="624.8" y1="1291.1" x2="624.8" y2="1321.2" stroke="#231815" stroke-width="2"/>
<line x1="708.9" y1="1291.1" x2="708.9" y2="1321.2" stroke="#231815" stroke-width="2"/>
<line x1="672.2" y1="1321.2" x2="672.2" y2="1345.7" stroke="#231815" stroke-width="2"/>
<rect x="597.5" y="1265.7" width="143.1" height="80" fill="none" stroke="#231815" stroke-width="2.2"/>
<rect x="864" y="1265.7" width="143.1" height="80" fill="#dcdcdc" stroke="none" stroke-width="0"/>
<line x1="864" y1="1290.6" x2="1007.1" y2="1290.6" stroke="#231815" stroke-width="2"/>
<line x1="864" y1="1318.8" x2="1007.1" y2="1318.8" stroke="#231815" stroke-width="2"/>
<line x1="912.5" y1="1265.7" x2="912.5" y2="1290.6" stroke="#231815" stroke-width="2"/>
<line x1="966.7" y1="1290.6" x2="966.7" y2="1318.8" stroke="#231815" stroke-width="2"/>
<line x1="912.5" y1="1318.8" x2="912.5" y2="1345.7" stroke="#231815" stroke-width="2"/>
<line x1="956.9" y1="1278" x2="979.4" y2="1278" stroke="#231815" stroke-width="1.8"/>
<line x1="893.5" y1="1305.7" x2="915.8" y2="1305.7" stroke="#231815" stroke-width="1.8"/>
<line x1="956.9" y1="1332.6" x2="979.4" y2="1332.6" stroke="#231815" stroke-width="1.8"/>
<rect x="864" y="1265.7" width="143.1" height="80" fill="none" stroke="#231815" stroke-width="2.2"/>
<rect x="1122" y="1265.9" width="142.9" height="79.9" fill="#dbb866" stroke="none" stroke-width="0"/>
<line x1="1139.5" y1="1280.2" x2="1158.3" y2="1280.2" stroke="#231815" stroke-width="1.8"/>
<line x1="1183.9" y1="1280.2" x2="1203" y2="1280.2" stroke="#231815" stroke-width="1.8"/>
<line x1="1227" y1="1280.2" x2="1246.1" y2="1280.2" stroke="#231815" stroke-width="1.8"/>
<line x1="1139.5" y1="1336.2" x2="1158.3" y2="1336.2" stroke="#231815" stroke-width="1.8"/>
<line x1="1183.9" y1="1336.2" x2="1203" y2="1336.2" stroke="#231815" stroke-width="1.8"/>
<line x1="1227" y1="1336.2" x2="1246.1" y2="1336.2" stroke="#231815" stroke-width="1.8"/>
<line x1="1158.3" y1="1308.5" x2="1177.6" y2="1308.5" stroke="#231815" stroke-width="1.8"/>
<line x1="1208.2" y1="1308.5" x2="1227" y2="1308.5" stroke="#231815" stroke-width="1.8"/>
<rect x="1122" y="1265.9" width="142.9" height="79.9" fill="none" stroke="#231815" stroke-width="2.2"/>
<rect x="1371.6" y="1265.9" width="142.9" height="79.9" fill="#fff" stroke="#231815" stroke-width="2.2"/>
<path d="M1416.5 1304.1 L1454 1304.1 L1454 1307.1 L1416.5 1307.1 Z M1453.3 1297 L1469.6 1305.6 L1453.3 1314.4 Z" fill="#231815"/>
<rect x="597.3" y="1428.6" width="143.2" height="80.6" fill="#898989" stroke="none" stroke-width="0"/>
<line x1="597.3" y1="1453.4" x2="740.5" y2="1453.4" stroke="#231815" stroke-width="2"/>
<line x1="597.3" y1="1485.1" x2="740.5" y2="1485.1" stroke="#231815" stroke-width="2"/>
<line x1="618.6" y1="1440.5" x2="636.4" y2="1440.5" stroke="#231815" stroke-width="1.9"/>
<path d="M670.3 1431.7 Q662.3 1439.2 663.8 1443.7 L672.3 1443.7" fill="none" stroke="#231815" stroke-width="1.8"/>
<line x1="701.6" y1="1440.5" x2="719.4" y2="1440.5" stroke="#231815" stroke-width="1.9"/>
<path d="M626.9 1460.7 Q618.9 1468.2 620.4 1472.7 L628.9 1472.7" fill="none" stroke="#231815" stroke-width="1.8"/>
<line x1="657" y1="1469.5" x2="674.8" y2="1469.5" stroke="#231815" stroke-width="1.9"/>
<path d="M707.5 1460.7 Q699.5 1468.2 701 1472.7 L709.5 1472.7" fill="none" stroke="#231815" stroke-width="1.8"/>
<line x1="617.3" y1="1500.2" x2="635.1" y2="1500.2" stroke="#231815" stroke-width="1.9"/>
<path d="M669.5 1491.4 Q661.5 1498.9 663 1503.4 L671.5 1503.4" fill="none" stroke="#231815" stroke-width="1.8"/>
<line x1="700.4" y1="1500.2" x2="718.2" y2="1500.2" stroke="#231815" stroke-width="1.9"/>
<rect x="597.3" y="1428.6" width="143.2" height="80.6" fill="none" stroke="#231815" stroke-width="2.2"/>
<rect x="863.7" y="1428.6" width="143.3" height="80.6" fill="#8c8a62" stroke="none" stroke-width="0"/>
<line x1="886.8" y1="1445.4" x2="902.9" y2="1445.4" stroke="#231815" stroke-width="1.7"/>
<line x1="894.85" y1="1434.1" x2="894.85" y2="1445.4" stroke="#231815" stroke-width="1.7"/>
<line x1="943.3" y1="1445.4" x2="959.9" y2="1445.4" stroke="#231815" stroke-width="1.7"/>
<line x1="951.6" y1="1434.1" x2="951.6" y2="1445.4" stroke="#231815" stroke-width="1.7"/>
<path d="M918.1 1431.9 L928.1 1446.2 M922 1439.2 L918.6 1445.9" stroke="#231815" stroke-width="1.7" fill="none"/>
<path d="M975.1 1431.9 L984.4 1446.2 M979 1439.2 L975.6 1445.9" stroke="#231815" stroke-width="1.7" fill="none"/>
<line x1="899.2" y1="1475.2" x2="915.3" y2="1475.2" stroke="#231815" stroke-width="1.7"/>
<line x1="907.25" y1="1463.9" x2="907.25" y2="1475.2" stroke="#231815" stroke-width="1.7"/>
<line x1="959.9" y1="1475.2" x2="976.8" y2="1475.2" stroke="#231815" stroke-width="1.7"/>
<line x1="968.35" y1="1463.9" x2="968.35" y2="1475.2" stroke="#231815" stroke-width="1.7"/>
<path d="M873.5 1461.2 L883.3 1475.5 M877.4 1468.5 L874 1475.2" stroke="#231815" stroke-width="1.7" fill="none"/>
<path d="M930.5 1461.2 L940.5 1475.5 M934.4 1468.5 L931 1475.2" stroke="#231815" stroke-width="1.7" fill="none"/>
<path d="M992 1461.2 L1001.8 1475.5 M995.9 1468.5 L992.5 1475.2" stroke="#231815" stroke-width="1.7" fill="none"/>
<line x1="891.7" y1="1503" x2="907.9" y2="1503" stroke="#231815" stroke-width="1.7"/>
<line x1="899.8" y1="1491.7" x2="899.8" y2="1503" stroke="#231815" stroke-width="1.7"/>
<line x1="948.8" y1="1503" x2="964.9" y2="1503" stroke="#231815" stroke-width="1.7"/>
<line x1="956.85" y1="1491.7" x2="956.85" y2="1503" stroke="#231815" stroke-width="1.7"/>
<path d="M923 1489.3 L933.1 1503.6 M926.9 1496.6 L923.5 1503.3" stroke="#231815" stroke-width="1.7" fill="none"/>
<path d="M980.1 1489.3 L989.9 1503.6 M984 1496.6 L980.6 1503.3" stroke="#231815" stroke-width="1.7" fill="none"/>
<rect x="863.7" y="1428.6" width="143.3" height="80.6" fill="none" stroke="#231815" stroke-width="2.2"/>
<rect x="1121.8" y="1429" width="143.6" height="80.4" fill="#4b4949" stroke="none" stroke-width="0"/>
<line x1="1121.8" y1="1456.3" x2="1265.4" y2="1456.3" stroke="#231815" stroke-width="2"/>
<line x1="1121.8" y1="1483.6" x2="1265.4" y2="1483.6" stroke="#231815" stroke-width="2"/>
<rect x="1121.8" y="1429" width="143.6" height="80.4" fill="none" stroke="#231815" stroke-width="2.2"/>
<rect x="1371.6" y="1429" width="142.9" height="79.8" fill="#b0dde3" stroke="none" stroke-width="0"/>
<path d="M1372.5 1457.6 C1390 1451 1408 1444.5 1425.5 1445 C1446 1445.5 1462 1455 1484.5 1454.8 C1495 1454.6 1505 1452 1514 1450.4" fill="none" stroke="#231815" stroke-width="1.8"/>
<path d="M1372.5 1479.5 C1384 1477 1398 1477.5 1410 1481 C1422 1484.5 1430 1488.5 1439.8 1488.3 C1456 1488 1468 1477.7 1486.7 1477.7 C1498 1477.7 1506 1478.3 1514 1478.8" fill="none" stroke="#231815" stroke-width="1.8"/>
<line x1="1408.5" y1="1429" x2="1408.5" y2="1446.8" stroke="#231815" stroke-width="1.8"/>
<line x1="1479.1" y1="1429" x2="1479.1" y2="1454.8" stroke="#231815" stroke-width="1.8"/>
<line x1="1384.7" y1="1454.5" x2="1384.7" y2="1478.2" stroke="#231815" stroke-width="1.8"/>
<line x1="1452.9" y1="1452.7" x2="1452.9" y2="1486.4" stroke="#231815" stroke-width="1.8"/>
<line x1="1414.6" y1="1482" x2="1414.6" y2="1508.8" stroke="#231815" stroke-width="1.8"/>
<line x1="1495" y1="1477.9" x2="1495" y2="1508.8" stroke="#231815" stroke-width="1.8"/>
<rect x="1371.6" y="1429" width="142.9" height="79.8" fill="none" stroke="#231815" stroke-width="2.2"/>
<text x="598.75" y="1393.5" font-family="Liberation Serif, serif" font-size="34" font-weight="bold" font-style="normal" fill="#231815" letter-spacing="0.56">Limestone</text>
<text x="813.95" y="1393.5" font-family="Liberation Serif, serif" font-size="34" font-weight="bold" font-style="normal" fill="#231815" letter-spacing="0">Muddy</text>
<text x="928.95" y="1393.5" font-family="Liberation Serif, serif" font-size="34" font-weight="bold" font-style="normal" fill="#231815" letter-spacing="0.56">limestone</text>
<text x="1130.5" y="1393.4" font-family="Liberation Serif, serif" font-size="34" font-weight="bold" font-style="normal" fill="#231815" letter-spacing="0.45">Mudstone</text>
<text x="1392.15" y="1393.4" font-family="Liberation Serif, serif" font-size="34" font-weight="bold" font-style="normal" fill="#231815" letter-spacing="0.68">Euxinic</text>
<text x="523" y="1551.8" font-family="Liberation Serif, serif" font-size="34" font-weight="bold" font-style="normal" fill="#231815" letter-spacing="0.6">Calcareous</text>
<text x="699" y="1551.8" font-family="Liberation Serif, serif" font-size="34" font-weight="bold" font-style="normal" fill="#231815" letter-spacing="0.51">mudstone</text>
<text x="886.3" y="1551.8" font-family="Liberation Serif, serif" font-size="34" font-weight="bold" font-style="normal" fill="#231815" letter-spacing="0.53">Diorite</text>
<text x="1157.1" y="1551.6" font-family="Liberation Serif, serif" font-size="34" font-weight="bold" font-style="normal" fill="#231815" letter-spacing="1.12">Shale</text>
<text x="1314.95" y="1551.6" font-family="Liberation Serif, serif" font-size="34" font-weight="bold" font-style="normal" fill="#231815" letter-spacing="0.37">Nodular</text>
<text x="1445.55" y="1551.6" font-family="Liberation Serif, serif" font-size="34" font-weight="bold" font-style="normal" fill="#231815" letter-spacing="0.68">limestone</text>
<text x="1607.3" y="1299.7" font-family="Liberation Serif, serif" font-size="33.5" font-weight="bold" font-style="normal" fill="#231815" letter-spacing="0.6">Redox</text>
<text x="1708.55" y="1299.7" font-family="Liberation Serif, serif" font-size="33.5" font-weight="bold" font-style="normal" fill="#231815" letter-spacing="0.95">conditions</text>
<rect x="1620.4" y="1352.1" width="64.3" height="77" fill="#231815" stroke="none" stroke-width="0"/>
<rect x="1620.4" y="1429.1" width="64.3" height="62.5" fill="#7f7f7f" stroke="none" stroke-width="0"/>
<rect x="1620.4" y="1352.1" width="64.3" height="194.8" fill="none" stroke="#231815" stroke-width="1.8"/>
<text x="1746.35" y="1387.9" font-family="Liberation Serif, serif" font-size="33.5" font-weight="bold" font-style="normal" fill="#231815" letter-spacing="0.83">euxinic</text>
<text x="1708.55" y="1465.9" font-family="Liberation Serif, serif" font-size="33.5" font-weight="bold" font-style="normal" fill="#231815" letter-spacing="0.98">dysoxic-oxic</text>
<text x="1766.8" y="1535.2" font-family="Liberation Serif, serif" font-size="33.5" font-weight="bold" font-style="normal" fill="#231815" letter-spacing="0.9">oxic</text>
<circle cx="1964.6" cy="631.6" r="3.2" fill="#6e6e6e"/>
<circle cx="1964.6" cy="653.8" r="4.5" fill="#6e6e6e"/>
<circle cx="1964.6" cy="674.2" r="4.5" fill="#6e6e6e"/>
<circle cx="1964.6" cy="701" r="4.5" fill="#6e6e6e"/>
<circle cx="1964.6" cy="743.2" r="5.9" fill="#6e6e6e"/>
<circle cx="1964.6" cy="759.5" r="4.5" fill="#6e6e6e"/>
<circle cx="1964.6" cy="860.6" r="3.2" fill="#6e6e6e"/>
<circle cx="1964.6" cy="866.1" r="3.2" fill="#6e6e6e"/>
<circle cx="1964.6" cy="884" r="3.2" fill="#6e6e6e"/>
<circle cx="1964.6" cy="904.7" r="3.2" fill="#6e6e6e"/>
<circle cx="1964.6" cy="914.3" r="3.2" fill="#6e6e6e"/>
<circle cx="1964.6" cy="920.3" r="4.5" fill="#6e6e6e"/>
<circle cx="1964.6" cy="962.7" r="3.2" fill="#6e6e6e"/>
<circle cx="1964.6" cy="973.5" r="3.2" fill="#6e6e6e"/>
<circle cx="1964.6" cy="977.3" r="3.2" fill="#6e6e6e"/>
<circle cx="1964.6" cy="987.9" r="3.2" fill="#6e6e6e"/>
<circle cx="1964.6" cy="1003" r="3.2" fill="#6e6e6e"/>
<circle cx="1964.6" cy="1052.9" r="3.2" fill="#6e6e6e"/>
<circle cx="1964.6" cy="1076.7" r="3.2" fill="#6e6e6e"/>
<circle cx="1964.6" cy="1097.7" r="3.2" fill="#6e6e6e"/>
<circle cx="1964.6" cy="1118.7" r="4.5" fill="#6e6e6e"/>
<circle cx="1964.6" cy="1155" r="3.2" fill="#6e6e6e"/>
<circle cx="1964.6" cy="1166.3" r="3.2" fill="#6e6e6e"/>
<circle cx="1964.6" cy="1178.9" r="3.2" fill="#6e6e6e"/>
<circle cx="1964.6" cy="1207.4" r="3.2" fill="#6e6e6e"/>
<circle cx="1964.6" cy="1219.2" r="3.2" fill="#6e6e6e"/>
<circle cx="1964.6" cy="1260.8" r="3.2" fill="#6e6e6e"/>
<circle cx="1964.6" cy="1272.9" r="3.2" fill="#6e6e6e"/>
<circle cx="1964.6" cy="1283" r="3.2" fill="#6e6e6e"/>
<circle cx="1964.6" cy="1304.4" r="3.2" fill="#6e6e6e"/>
<circle cx="1964.6" cy="1315.8" r="3.2" fill="#6e6e6e"/>
<circle cx="1964.6" cy="1336" r="3.2" fill="#6e6e6e"/>
<circle cx="1964.6" cy="1346.7" r="3.2" fill="#6e6e6e"/>
<circle cx="1964.6" cy="1355.6" r="4.5" fill="#6e6e6e"/>
<circle cx="1964.6" cy="1365" r="4.5" fill="#6e6e6e"/>
<circle cx="1964.6" cy="1403.4" r="3.2" fill="#6e6e6e"/>
<circle cx="1964.6" cy="1414" r="3.2" fill="#6e6e6e"/>
<circle cx="1964.6" cy="1429.9" r="5.9" fill="#6e6e6e"/>
<circle cx="1964.6" cy="1438.7" r="3.2" fill="#6e6e6e"/>
<circle cx="1964.6" cy="1493.6" r="3.2" fill="#6e6e6e"/>
<circle cx="1964.6" cy="1533.2" r="3.2" fill="#6e6e6e"/>
<circle cx="1964.6" cy="1546.6" r="3.2" fill="#6e6e6e"/>
<circle cx="2023.2" cy="743.2" r="4.5" fill="#6e6e6e"/>
<circle cx="2023.2" cy="759.5" r="5.9" fill="#6e6e6e"/>
<circle cx="2023.2" cy="790.5" r="3.2" fill="#6e6e6e"/>
<circle cx="2023.2" cy="811.5" r="4.5" fill="#6e6e6e"/>
<circle cx="2023.2" cy="848.7" r="4.5" fill="#6e6e6e"/>
<circle cx="2023.2" cy="854.8" r="4.5" fill="#6e6e6e"/>
<circle cx="2023.2" cy="861.1" r="3.2" fill="#6e6e6e"/>
<circle cx="2023.2" cy="866.1" r="3.2" fill="#6e6e6e"/>
<circle cx="2023.2" cy="894.6" r="3.2" fill="#6e6e6e"/>
<circle cx="2023.2" cy="962.7" r="3.2" fill="#6e6e6e"/>
<circle cx="2023.2" cy="973.5" r="3.2" fill="#6e6e6e"/>
<circle cx="2023.2" cy="977.8" r="3.2" fill="#6e6e6e"/>
<circle cx="2023.2" cy="989.1" r="3.2" fill="#6e6e6e"/>
<circle cx="2023.2" cy="1024.4" r="4.5" fill="#6e6e6e"/>
<circle cx="2023.2" cy="1070.5" r="4.5" fill="#6e6e6e"/>
<circle cx="2023.2" cy="1076.9" r="3.2" fill="#6e6e6e"/>
<circle cx="2023.2" cy="1098.5" r="3.2" fill="#6e6e6e"/>
<circle cx="2023.2" cy="1177.9" r="3.2" fill="#6e6e6e"/>
<circle cx="2023.2" cy="1196" r="5.9" fill="#6e6e6e"/>
<circle cx="2023.2" cy="1206.9" r="3.2" fill="#6e6e6e"/>
<circle cx="2023.2" cy="1296.9" r="3.2" fill="#6e6e6e"/>
<circle cx="2023.2" cy="1305.2" r="3.2" fill="#6e6e6e"/>
<circle cx="2023.2" cy="1315.3" r="3.2" fill="#6e6e6e"/>
<circle cx="2023.2" cy="1336" r="3.2" fill="#6e6e6e"/>
<circle cx="2023.2" cy="1356.2" r="3.2" fill="#6e6e6e"/>
<circle cx="2023.2" cy="1363.3" r="3.2" fill="#6e6e6e"/>
<circle cx="2023.2" cy="1391.5" r="3.2" fill="#6e6e6e"/>
<circle cx="2023.2" cy="1399.1" r="3.2" fill="#6e6e6e"/>
<circle cx="2023.2" cy="1414" r="3.2" fill="#6e6e6e"/>
<circle cx="2023.2" cy="1430.1" r="4.5" fill="#6e6e6e"/>
<circle cx="2023.2" cy="1438.7" r="4.5" fill="#6e6e6e"/>
<circle cx="2023.2" cy="1546.6" r="3.2" fill="#6e6e6e"/>
<circle cx="2078.3" cy="653.8" r="5.9" fill="#6e6e6e"/>
<circle cx="2078.3" cy="674.2" r="5.9" fill="#6e6e6e"/>
<circle cx="2078.3" cy="701" r="4.5" fill="#6e6e6e"/>
<circle cx="2078.3" cy="721" r="5.9" fill="#6e6e6e"/>
<circle cx="2078.3" cy="743.2" r="5.9" fill="#6e6e6e"/>
<circle cx="2078.3" cy="759.5" r="4.5" fill="#6e6e6e"/>
<circle cx="2078.3" cy="805.8" r="3.2" fill="#6e6e6e"/>
<circle cx="2078.3" cy="811.5" r="3.2" fill="#6e6e6e"/>
<circle cx="2078.3" cy="854.3" r="3.2" fill="#6e6e6e"/>
<circle cx="2078.3" cy="860.6" r="3.2" fill="#6e6e6e"/>
<circle cx="2078.3" cy="866.1" r="3.2" fill="#6e6e6e"/>
<circle cx="2078.3" cy="883.3" r="3.2" fill="#6e6e6e"/>
<circle cx="2078.3" cy="894.1" r="3.2" fill="#6e6e6e"/>
<circle cx="2078.3" cy="904.7" r="4.5" fill="#6e6e6e"/>
<circle cx="2078.3" cy="914.3" r="4.5" fill="#6e6e6e"/>
<circle cx="2078.3" cy="920.6" r="5.9" fill="#6e6e6e"/>
<circle cx="2078.3" cy="934.2" r="4.5" fill="#6e6e6e"/>
<circle cx="2078.3" cy="940.5" r="4.5" fill="#6e6e6e"/>
<circle cx="2078.3" cy="963.2" r="4.5" fill="#6e6e6e"/>
<circle cx="2078.3" cy="973.3" r="3.2" fill="#6e6e6e"/>
<circle cx="2078.3" cy="978.6" r="4.5" fill="#6e6e6e"/>
<circle cx="2078.3" cy="1052.9" r="3.2" fill="#6e6e6e"/>
<circle cx="2078.3" cy="1076.7" r="3.2" fill="#6e6e6e"/>
<circle cx="2078.3" cy="1118.4" r="5.9" fill="#6e6e6e"/>
<circle cx="2078.3" cy="1154.4" r="3.2" fill="#6e6e6e"/>
<circle cx="2078.3" cy="1166.3" r="3.2" fill="#6e6e6e"/>
<circle cx="2078.3" cy="1195.3" r="3.2" fill="#6e6e6e"/>
<circle cx="2078.3" cy="1207.4" r="3.2" fill="#6e6e6e"/>
<circle cx="2078.3" cy="1273.7" r="3.2" fill="#6e6e6e"/>
<circle cx="2078.3" cy="1283" r="3.2" fill="#6e6e6e"/>
<circle cx="2078.3" cy="1315.3" r="3.2" fill="#6e6e6e"/>
<circle cx="2078.3" cy="1324.6" r="4.5" fill="#6e6e6e"/>
<circle cx="2078.3" cy="1334.8" r="3.2" fill="#6e6e6e"/>
<circle cx="2078.3" cy="1339.9" r="3.2" fill="#6e6e6e"/>
<circle cx="2078.3" cy="1346.6" r="4.5" fill="#6e6e6e"/>
<circle cx="2078.3" cy="1356.7" r="5.9" fill="#6e6e6e"/>
<circle cx="2078.3" cy="1364.5" r="5.9" fill="#6e6e6e"/>
<circle cx="2078.3" cy="1399.6" r="3.2" fill="#6e6e6e"/>
<circle cx="2078.3" cy="1414.2" r="3.2" fill="#6e6e6e"/>
<circle cx="2078.3" cy="1429.4" r="3.2" fill="#6e6e6e"/>
<circle cx="2078.3" cy="1438.7" r="3.2" fill="#6e6e6e"/>
<circle cx="2078.3" cy="1493.6" r="3.2" fill="#6e6e6e"/>
<circle cx="2131.3" cy="653.8" r="4.5" fill="#6e6e6e"/>
<circle cx="2131.3" cy="674.2" r="3.2" fill="#6e6e6e"/>
<circle cx="2131.3" cy="701" r="5.9" fill="#6e6e6e"/>
<circle cx="2131.3" cy="743.2" r="5.9" fill="#6e6e6e"/>
<circle cx="2131.3" cy="759.5" r="5.9" fill="#6e6e6e"/>
<circle cx="2131.3" cy="791" r="3.2" fill="#6e6e6e"/>
<circle cx="2131.3" cy="805.8" r="3.2" fill="#6e6e6e"/>
<circle cx="2131.3" cy="812" r="5.9" fill="#6e6e6e"/>
<circle cx="2131.3" cy="830.3" r="3.2" fill="#6e6e6e"/>
<circle cx="2131.3" cy="848.7" r="4.5" fill="#6e6e6e"/>
<circle cx="2131.3" cy="855" r="5.9" fill="#6e6e6e"/>
<circle cx="2131.3" cy="861.3" r="5.9" fill="#6e6e6e"/>
<circle cx="2131.3" cy="866.1" r="5.9" fill="#6e6e6e"/>
<circle cx="2131.3" cy="876.2" r="5.9" fill="#6e6e6e"/>
<circle cx="2131.3" cy="883.8" r="5.9" fill="#6e6e6e"/>
<circle cx="2131.3" cy="895.1" r="5.9" fill="#6e6e6e"/>
<circle cx="2131.3" cy="905.5" r="5.9" fill="#6e6e6e"/>
<circle cx="2131.3" cy="916" r="5.9" fill="#6e6e6e"/>
<circle cx="2131.3" cy="920.6" r="5.9" fill="#6e6e6e"/>
<circle cx="2131.3" cy="934.9" r="3.2" fill="#6e6e6e"/>
<circle cx="2131.3" cy="940.7" r="5.9" fill="#6e6e6e"/>
<circle cx="2131.3" cy="963.2" r="5.9" fill="#6e6e6e"/>
<circle cx="2131.3" cy="973.3" r="5.9" fill="#6e6e6e"/>
<circle cx="2131.3" cy="977.8" r="3.2" fill="#6e6e6e"/>
<circle cx="2131.3" cy="987.4" r="5.9" fill="#6e6e6e"/>
<circle cx="2131.3" cy="1003" r="4.5" fill="#6e6e6e"/>
<circle cx="2131.3" cy="1024.9" r="4.5" fill="#6e6e6e"/>
<circle cx="2131.3" cy="1052.2" r="4.5" fill="#6e6e6e"/>
<circle cx="2131.3" cy="1070.5" r="3.2" fill="#6e6e6e"/>
<circle cx="2131.3" cy="1077.5" r="5.9" fill="#6e6e6e"/>
<circle cx="2131.3" cy="1098.5" r="5.9" fill="#6e6e6e"/>
<circle cx="2131.3" cy="1117.9" r="5.9" fill="#6e6e6e"/>
<circle cx="2131.3" cy="1164.5" r="5.9" fill="#6e6e6e"/>
<circle cx="2131.3" cy="1177.6" r="4.5" fill="#6e6e6e"/>
<circle cx="2131.3" cy="1196" r="3.2" fill="#6e6e6e"/>
<circle cx="2131.3" cy="1207.4" r="3.2" fill="#6e6e6e"/>
<circle cx="2131.3" cy="1233.1" r="3.2" fill="#6e6e6e"/>
<circle cx="2131.3" cy="1261.1" r="3.2" fill="#6e6e6e"/>
<circle cx="2131.3" cy="1272.9" r="3.2" fill="#6e6e6e"/>
<circle cx="2131.3" cy="1283" r="3.2" fill="#6e6e6e"/>
<circle cx="2131.3" cy="1296.1" r="3.2" fill="#6e6e6e"/>
<circle cx="2131.3" cy="1305.2" r="5.9" fill="#6e6e6e"/>
<circle cx="2131.3" cy="1322.6" r="3.2" fill="#6e6e6e"/>
<circle cx="2131.3" cy="1333.6" r="5.9" fill="#6e6e6e"/>
<circle cx="2131.3" cy="1355.6" r="3.2" fill="#6e6e6e"/>
<circle cx="2131.3" cy="1363.7" r="3.2" fill="#6e6e6e"/>
<circle cx="2131.3" cy="1399.1" r="3.2" fill="#6e6e6e"/>
<circle cx="2131.3" cy="1404.1" r="3.2" fill="#6e6e6e"/>
<circle cx="2131.3" cy="1414.2" r="5.9" fill="#6e6e6e"/>
<circle cx="2131.3" cy="1429.4" r="4.5" fill="#6e6e6e"/>
<circle cx="2131.3" cy="1438.7" r="5.9" fill="#6e6e6e"/>
<circle cx="2131.3" cy="1493.6" r="3.2" fill="#6e6e6e"/>
<circle cx="2187.5" cy="653.8" r="4.5" fill="#6e6e6e"/>
<circle cx="2187.5" cy="674.2" r="4.5" fill="#6e6e6e"/>
<circle cx="2187.5" cy="701" r="4.5" fill="#6e6e6e"/>
<circle cx="2187.5" cy="721" r="4.5" fill="#6e6e6e"/>
<circle cx="2187.5" cy="743.2" r="5.9" fill="#6e6e6e"/>
<circle cx="2187.5" cy="759" r="5.9" fill="#6e6e6e"/>
<circle cx="2187.5" cy="777" r="3.2" fill="#6e6e6e"/>
<circle cx="2187.5" cy="811.5" r="5.9" fill="#6e6e6e"/>
<circle cx="2187.5" cy="831.6" r="3.2" fill="#6e6e6e"/>
<circle cx="2187.5" cy="848.5" r="3.2" fill="#6e6e6e"/>
<circle cx="2187.5" cy="855.5" r="3.2" fill="#6e6e6e"/>
<circle cx="2187.5" cy="883.3" r="3.2" fill="#6e6e6e"/>
<circle cx="2187.5" cy="894.1" r="3.2" fill="#6e6e6e"/>
<circle cx="2187.5" cy="904.7" r="3.2" fill="#6e6e6e"/>
<circle cx="2187.5" cy="914.3" r="3.2" fill="#6e6e6e"/>
<circle cx="2187.5" cy="920.3" r="4.5" fill="#6e6e6e"/>
<circle cx="2187.5" cy="938.2" r="3.2" fill="#6e6e6e"/>
<circle cx="2187.5" cy="962.7" r="4.5" fill="#6e6e6e"/>
<circle cx="2187.5" cy="973.5" r="3.2" fill="#6e6e6e"/>
<circle cx="2187.5" cy="979.8" r="3.2" fill="#6e6e6e"/>
<circle cx="2187.5" cy="987.9" r="5.9" fill="#6e6e6e"/>
<circle cx="2187.5" cy="1024.4" r="4.5" fill="#6e6e6e"/>
<circle cx="2187.5" cy="1052.2" r="3.2" fill="#6e6e6e"/>
<circle cx="2187.5" cy="1070.2" r="5.9" fill="#6e6e6e"/>
<circle cx="2187.5" cy="1076.8" r="3.2" fill="#6e6e6e"/>
<circle cx="2187.5" cy="1097.2" r="3.2" fill="#6e6e6e"/>
<circle cx="2187.5" cy="1154.4" r="4.5" fill="#6e6e6e"/>
<circle cx="2187.5" cy="1195.3" r="4.5" fill="#6e6e6e"/>
<circle cx="2187.5" cy="1218.7" r="3.2" fill="#6e6e6e"/>
<circle cx="2187.5" cy="1233.9" r="3.2" fill="#6e6e6e"/>
<circle cx="2187.5" cy="1251.5" r="3.2" fill="#6e6e6e"/>
<circle cx="2187.5" cy="1261.6" r="3.2" fill="#6e6e6e"/>
<circle cx="2187.5" cy="1296.1" r="3.2" fill="#6e6e6e"/>
<circle cx="2187.5" cy="1305.2" r="5.9" fill="#6e6e6e"/>
<circle cx="2187.5" cy="1356.1" r="4.5" fill="#6e6e6e"/>
<circle cx="2187.5" cy="1363.7" r="4.5" fill="#6e6e6e"/>
<circle cx="2187.5" cy="1370.1" r="3.2" fill="#6e6e6e"/>
<circle cx="2187.5" cy="1403.4" r="3.2" fill="#6e6e6e"/>
<circle cx="2187.5" cy="1545.8" r="3.2" fill="#6e6e6e"/>
<circle cx="2245.2" cy="592" r="3.2" fill="#6e6e6e"/>
<circle cx="2245.2" cy="759.5" r="3.2" fill="#6e6e6e"/>
<circle cx="2245.2" cy="777" r="3.2" fill="#6e6e6e"/>
<circle cx="2245.2" cy="791" r="3.2" fill="#6e6e6e"/>
<circle cx="2245.2" cy="849.2" r="3.2" fill="#6e6e6e"/>
<circle cx="2245.2" cy="866.4" r="3.2" fill="#6e6e6e"/>
<circle cx="2245.2" cy="893.4" r="3.2" fill="#6e6e6e"/>
<circle cx="2245.2" cy="962.2" r="3.2" fill="#6e6e6e"/>
<circle cx="2245.2" cy="973.5" r="4.5" fill="#6e6e6e"/>
<circle cx="2245.2" cy="986.6" r="3.2" fill="#6e6e6e"/>
<circle cx="2245.2" cy="1024.4" r="4.5" fill="#6e6e6e"/>
<circle cx="2245.2" cy="1070.8" r="3.2" fill="#6e6e6e"/>
<circle cx="2245.2" cy="1076.2" r="4.5" fill="#6e6e6e"/>
<circle cx="2245.2" cy="1097.7" r="5.9" fill="#6e6e6e"/>
<circle cx="2245.2" cy="1118.7" r="3.2" fill="#6e6e6e"/>
<circle cx="2245.2" cy="1166.5" r="3.2" fill="#6e6e6e"/>
<circle cx="2245.2" cy="1177.1" r="3.2" fill="#6e6e6e"/>
<circle cx="2245.2" cy="1219.2" r="4.5" fill="#6e6e6e"/>
<circle cx="2245.2" cy="1233.1" r="3.2" fill="#6e6e6e"/>
<circle cx="2245.2" cy="1251.5" r="3.2" fill="#6e6e6e"/>
<circle cx="2245.2" cy="1272.4" r="4.5" fill="#6e6e6e"/>
<circle cx="2245.2" cy="1283.8" r="4.5" fill="#6e6e6e"/>
<circle cx="2245.2" cy="1296.4" r="4.5" fill="#6e6e6e"/>
<circle cx="2245.2" cy="1305.7" r="5.9" fill="#6e6e6e"/>
<circle cx="2245.2" cy="1316.5" r="4.5" fill="#6e6e6e"/>
<circle cx="2245.2" cy="1322.8" r="3.2" fill="#6e6e6e"/>
<circle cx="2245.2" cy="1346.1" r="3.2" fill="#6e6e6e"/>
<circle cx="2245.2" cy="1370.1" r="4.5" fill="#6e6e6e"/>
<circle cx="2245.2" cy="1382.2" r="4.5" fill="#6e6e6e"/>
<circle cx="2245.2" cy="1391.5" r="5.9" fill="#6e6e6e"/>
<circle cx="2245.2" cy="1460.1" r="4.5" fill="#6e6e6e"/>
<circle cx="2245.2" cy="1512.5" r="3.2" fill="#6e6e6e"/>
<circle cx="2245.2" cy="1533.2" r="5.9" fill="#6e6e6e"/>
<circle cx="2245.2" cy="1546.6" r="3.2" fill="#6e6e6e"/>
<circle cx="2297.1" cy="501.6" r="3.2" fill="#6e6e6e"/>
<circle cx="2297.1" cy="811.5" r="3.2" fill="#6e6e6e"/>
<circle cx="2346.8" cy="811.5" r="3.2" fill="#6e6e6e"/>
<circle cx="2396.3" cy="674.2" r="4.5" fill="#6e6e6e"/>
<circle cx="2396.3" cy="701" r="4.5" fill="#6e6e6e"/>
<circle cx="2396.3" cy="743.2" r="4.5" fill="#6e6e6e"/>
<circle cx="2396.3" cy="759.5" r="4.5" fill="#6e6e6e"/>
<circle cx="2396.3" cy="809.4" r="3.2" fill="#6e6e6e"/>
<circle cx="2396.3" cy="875.2" r="3.2" fill="#6e6e6e"/>
<circle cx="2396.3" cy="903.9" r="3.2" fill="#6e6e6e"/>
<circle cx="2396.3" cy="1137.6" r="3.2" fill="#6e6e6e"/>
<circle cx="2396.3" cy="1167" r="3.2" fill="#6e6e6e"/>
<circle cx="2396.3" cy="1296.1" r="3.2" fill="#6e6e6e"/>
<circle cx="2448.5" cy="674.2" r="3.2" fill="#6e6e6e"/>
<circle cx="2448.5" cy="701" r="3.2" fill="#6e6e6e"/>
<circle cx="2448.5" cy="743.2" r="3.2" fill="#6e6e6e"/>
<line x1="1964.6" y1="444" x2="1964.6" y2="1554" stroke="#2a2a2a" stroke-width="1.2" stroke-dasharray="1.7 2.5"/>
<line x1="2023.2" y1="444" x2="2023.2" y2="1554" stroke="#2a2a2a" stroke-width="1.2" stroke-dasharray="1.7 2.5"/>
<line x1="2078.3" y1="444" x2="2078.3" y2="1554" stroke="#2a2a2a" stroke-width="1.2" stroke-dasharray="1.7 2.5"/>
<line x1="2131.3" y1="444" x2="2131.3" y2="1554" stroke="#2a2a2a" stroke-width="1.2" stroke-dasharray="1.7 2.5"/>
<line x1="2187.5" y1="444" x2="2187.5" y2="1554" stroke="#2a2a2a" stroke-width="1.2" stroke-dasharray="1.7 2.5"/>
<line x1="2245.2" y1="444" x2="2245.2" y2="1554" stroke="#2a2a2a" stroke-width="1.2" stroke-dasharray="1.7 2.5"/>
<line x1="2297.1" y1="444" x2="2297.1" y2="1554" stroke="#2a2a2a" stroke-width="1.2" stroke-dasharray="1.7 2.5"/>
<line x1="2346.8" y1="444" x2="2346.8" y2="1554" stroke="#2a2a2a" stroke-width="1.2" stroke-dasharray="1.7 2.5"/>
<line x1="2396.3" y1="444" x2="2396.3" y2="1554" stroke="#2a2a2a" stroke-width="1.2" stroke-dasharray="1.7 2.5"/>
<line x1="2448.5" y1="444" x2="2448.5" y2="1554" stroke="#2a2a2a" stroke-width="1.2" stroke-dasharray="1.7 2.5"/>
<rect x="1910.1" y="442.4" width="587.8" height="1113.2" fill="none" stroke="#0d0d0d" stroke-width="2.2"/>
<text transform="translate(1968.4 424.03) rotate(-81)" font-family="Liberation Serif, serif" font-size="29.5" font-weight="normal" font-style="normal" fill="#231815" letter-spacing="0.29">Bivalve</text>
<text transform="translate(2027 424.03) rotate(-81)" font-family="Liberation Serif, serif" font-size="29.5" font-weight="normal" font-style="normal" fill="#231815" letter-spacing="0.18">Brachiopods</text>
<text transform="translate(2082.1 424.3) rotate(-81)" font-family="Liberation Serif, serif" font-size="29.5" font-weight="normal" font-style="normal" fill="#231815" letter-spacing="0.14">Algae</text>
<text transform="translate(2135.1 425.83) rotate(-81)" font-family="Liberation Serif, serif" font-size="29.5" font-weight="normal" font-style="normal" fill="#231815" letter-spacing="0.2">Coral</text>
<text transform="translate(2191.3 425.83) rotate(-81)" font-family="Liberation Serif, serif" font-size="29.5" font-weight="normal" font-style="normal" fill="#231815" letter-spacing="0.46">Gastropods</text>
<text transform="translate(2249 426.55) rotate(-81)" font-family="Liberation Serif, serif" font-size="29.5" font-weight="normal" font-style="normal" fill="#231815" letter-spacing="0.41">Spongia</text>
<text transform="translate(2300.9 426.37) rotate(-81)" font-family="Liberation Serif, serif" font-size="29.5" font-weight="normal" font-style="normal" fill="#231815" letter-spacing="0.36">Ostracoda</text>
<text transform="translate(2350.6 424.21) rotate(-81)" font-family="Liberation Serif, serif" font-size="29.5" font-weight="normal" font-style="normal" fill="#231815" letter-spacing="0.17">Echinoderms</text>
<text transform="translate(2400.1 425.47) rotate(-81)" font-family="Liberation Serif, serif" font-size="29.5" font-weight="normal" font-style="normal" fill="#231815" letter-spacing="0.55">Foraminifera</text>
<text transform="translate(2452.3 426.01) rotate(-81)" font-family="Liberation Serif, serif" font-size="29.5" font-weight="normal" font-style="normal" fill="#231815" letter-spacing="0.12">Bryozoan</text>
<circle cx="1966.5" cy="210.2" r="3.4" fill="#6e6e6e"/>
<circle cx="2108.8" cy="210.3" r="4.75" fill="#6e6e6e"/>
<circle cx="2292.7" cy="210.2" r="6" fill="#6e6e6e"/>
<text x="2010.6" y="218.6" font-family="Liberation Serif, serif" font-size="26.5" font-weight="normal" font-style="normal" fill="#231815" letter-spacing="2.05">Rare</text>
<text x="2148.8" y="218.6" font-family="Liberation Serif, serif" font-size="26.5" font-weight="normal" font-style="normal" fill="#231815" letter-spacing="2.02">Normal</text>
<text x="2334" y="218.6" font-family="Liberation Serif, serif" font-size="26.5" font-weight="normal" font-style="normal" fill="#231815" letter-spacing="1.94">Abundent</text>
</svg></body></html>
